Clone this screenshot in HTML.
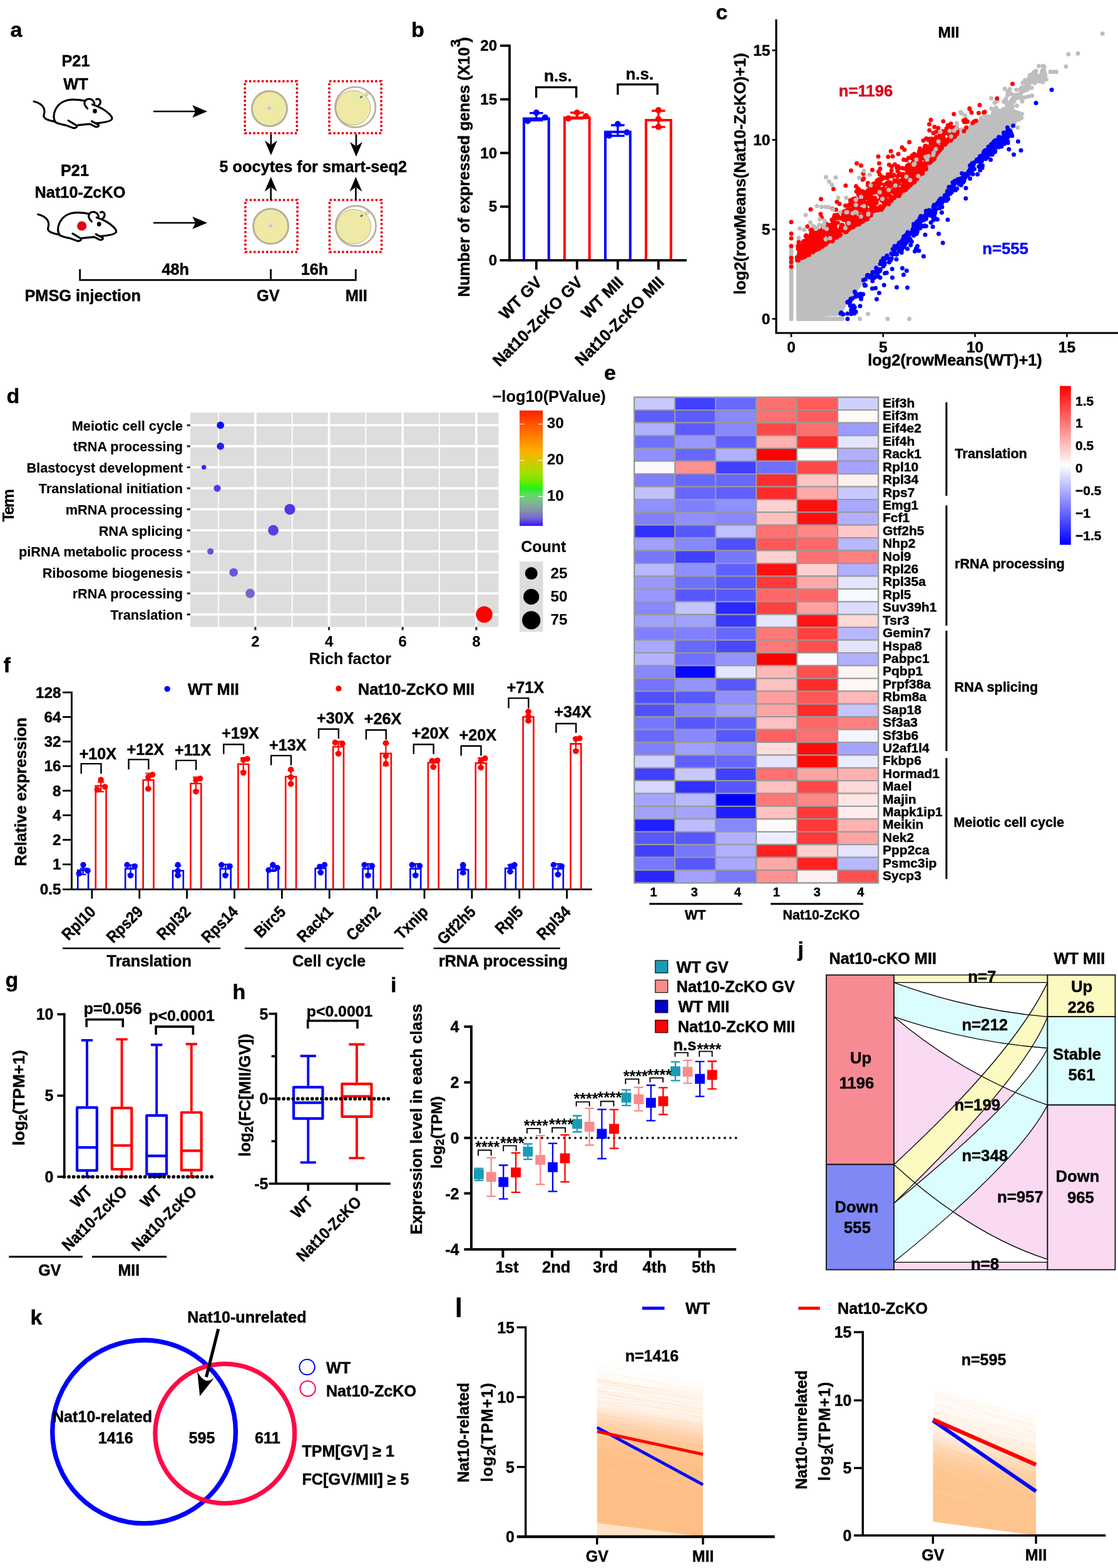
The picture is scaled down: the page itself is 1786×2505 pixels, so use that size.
<!DOCTYPE html>
<html lang="en"><head><meta charset="utf-8"><title>Figure</title>
<style>
html,body{margin:0;padding:0;background:#fff}
svg{display:block}
text{font-family:"Liberation Sans",sans-serif;font-weight:bold;stroke:#000;stroke-width:.45px}
#pd text{stroke-width:.15px}
</style></head><body>
<svg width="1786" height="2505" viewBox="0 0 1786 2505">
<rect width="1786" height="2505" fill="#fff"/>
<g id="pa">
<text x="16.5" y="58.6" font-size="34">a</text>
<text x="121" y="105.7" font-size="25.3" text-anchor="middle">P21</text>
<text x="121" y="143" font-size="25.3" text-anchor="middle">WT</text>
<text x="119.5" y="281" font-size="25.3" text-anchor="middle">P21</text>
<text x="128" y="316.3" font-size="25.3" text-anchor="middle">Nat10-ZcKO</text>
<g transform="translate(30 70) scale(0.19704)" fill="none" stroke="#000" stroke-width="16" stroke-linecap="round" stroke-linejoin="round"><path d="M122 467C165 478 205 500 208 545C210 575 190 585 215 605C235 620 265 625 290 630"/><path d="M300 637C278 612 280 570 297 535C320 485 370 452 440 452C475 452 505 455 535 462"/><path d="M597 492C640 505 700 535 735 570C750 585 760 597 755 610C748 628 700 637 632 643"/><path d="M300 637C330 652 355 655 380 660L440 682C460 688 480 672 468 662L402 622"/><path d="M478 660C510 655 550 652 578 650L620 672C640 678 655 665 645 656L592 628"/><path d="M557 525C535 505 525 480 540 460C555 442 585 442 603 462C610 470 612 478 613 485"/><path d="M628 450C645 443 660 452 662 467C663 480 658 490 648 498"/><ellipse cx="617" cy="545" rx="13" ry="15" fill="#000" stroke-width="8"/></g>
<g transform="translate(6.7 180.5)"><g transform="translate(30 70) scale(0.19704)" fill="none" stroke="#000" stroke-width="16" stroke-linecap="round" stroke-linejoin="round"><path d="M122 467C165 478 205 500 208 545C210 575 190 585 215 605C235 620 265 625 290 630"/><path d="M300 637C278 612 280 570 297 535C320 485 370 452 440 452C475 452 505 455 535 462"/><path d="M597 492C640 505 700 535 735 570C750 585 760 597 755 610C748 628 700 637 632 643"/><path d="M300 637C330 652 355 655 380 660L440 682C460 688 480 672 468 662L402 622"/><path d="M478 660C510 655 550 652 578 650L620 672C640 678 655 665 645 656L592 628"/><path d="M557 525C535 505 525 480 540 460C555 442 585 442 603 462C610 470 612 478 613 485"/><path d="M628 450C645 443 660 452 662 467C663 480 658 490 648 498"/><ellipse cx="617" cy="545" rx="13" ry="15" fill="#000" stroke-width="8"/></g></g>
<circle cx="130.7" cy="361" r="7.6" fill="#e60012"/>
<line x1="245" y1="178" x2="312" y2="178" stroke="#000" stroke-width="2.6"/>
<polygon points="331.2,178 307.3,168 312.3,178 307.3,188" fill="#000"/>
<line x1="245" y1="356" x2="312" y2="356" stroke="#000" stroke-width="2.6"/>
<polygon points="331.2,356 307.3,346 312.3,356 307.3,366" fill="#000"/>
<rect x="391.3" y="129.7" width="83.1" height="83.1" fill="none" stroke="#e60012" stroke-width="3.5" stroke-dasharray="3.5 3.15"/>
<circle cx="430.5" cy="173.6" r="28" fill="#eeeaa5" stroke="#b9ae9a" stroke-width="3"/>
<circle cx="430.5" cy="173" r="4.8" fill="#e7dfc0"/>
<circle cx="430.3" cy="173" r="1.9" fill="#c6b892"/>
<rect x="526" y="129.7" width="83.1" height="83.1" fill="none" stroke="#e60012" stroke-width="3.5" stroke-dasharray="3.5 3.15"/>
<circle cx="567.7" cy="171.2" r="32.2" fill="#fff" stroke="#b9ae9a" stroke-width="2.7"/>
<circle cx="585.7" cy="150.3" r="2.7" fill="#eeeaa5" stroke="#a59c80" stroke-width="0.7"/>
<circle cx="564.3" cy="172.3" r="27.7" fill="#eeeaa5" stroke="#6d6a55" stroke-width="0.5"/>
<path d="M574 155.4l4.5 -3.2l-1 2.3l2.6 -1.2l-3.6 4.4l-0.6 -1.6z" fill="#1b75bc"/>
<rect x="392" y="319.5" width="83.1" height="83.1" fill="none" stroke="#e60012" stroke-width="3.5" stroke-dasharray="3.5 3.15"/>
<circle cx="432.6" cy="361.4" r="28" fill="#eeeaa5" stroke="#b9ae9a" stroke-width="3"/>
<circle cx="432.6" cy="360.8" r="4.8" fill="#e7dfc0"/>
<circle cx="432.4" cy="360.8" r="1.9" fill="#c6b892"/>
<rect x="526.5" y="319.5" width="83.1" height="83.1" fill="none" stroke="#e60012" stroke-width="3.5" stroke-dasharray="3.5 3.15"/>
<circle cx="568.4" cy="361" r="32.2" fill="#fff" stroke="#b9ae9a" stroke-width="2.7"/>
<circle cx="586.4" cy="340.1" r="2.7" fill="#eeeaa5" stroke="#a59c80" stroke-width="0.7"/>
<circle cx="565" cy="362.1" r="27.7" fill="#eeeaa5" stroke="#6d6a55" stroke-width="0.5"/>
<path d="M574.7 345.2l4.5 -3.2l-1 2.3l2.6 -1.2l-3.6 4.4l-0.6 -1.6z" fill="#1b75bc"/>
<line x1="432.9" y1="214.5" x2="432.9" y2="231" stroke="#000" stroke-width="2.6"/>
<polygon points="432.9,248 422.9,224.5 432.9,231.5 442.9,224.5" fill="#000"/>
<line x1="569" y1="214.5" x2="569" y2="233.3" stroke="#000" stroke-width="2.6"/>
<polygon points="569,250.3 559,226.8 569,233.8 579,226.8" fill="#000"/>
<line x1="432.7" y1="320" x2="432.7" y2="299.6" stroke="#000" stroke-width="2.6"/>
<polygon points="432.7,282.6 422.7,306.1 432.7,299.1 442.7,306.1" fill="#000"/>
<line x1="568.4" y1="320" x2="568.4" y2="299.6" stroke="#000" stroke-width="2.6"/>
<polygon points="568.4,282.6 558.4,306.1 568.4,299.1 578.4,306.1" fill="#000"/>
<text x="350.5" y="275" font-size="25.3">5 oocytes for smart-seq2</text>
<path d="M127.7 430V447.3H568.3V430M432.6 430V447.3" fill="none" stroke="#000" stroke-width="2.8"/>
<text x="280.2" y="439" font-size="25.3" text-anchor="middle">48h</text>
<text x="502.5" y="439" font-size="25.3" text-anchor="middle">16h</text>
<text x="39.5" y="480.7" font-size="25.3">PMSG injection</text>
<text x="428.4" y="480.7" font-size="25.3" text-anchor="middle">GV</text>
<text x="569.2" y="480.7" font-size="25.3" text-anchor="middle">MII</text>
</g>
<g id="pb">
<text x="657" y="58.5" font-size="34">b</text>
<path d="M814 71.3V415.8H1097" fill="none" stroke="#000" stroke-width="3.8"/>
<line x1="798.5" y1="415.8" x2="814" y2="415.8" stroke="#000" stroke-width="3.8"/>
<line x1="799" y1="330.1" x2="814" y2="330.1" stroke="#000" stroke-width="3.8"/>
<line x1="799" y1="244.4" x2="814" y2="244.4" stroke="#000" stroke-width="3.8"/>
<line x1="799" y1="158.7" x2="814" y2="158.7" stroke="#000" stroke-width="3.8"/>
<line x1="799" y1="73" x2="814" y2="73" stroke="#000" stroke-width="3.8"/>
<text x="794" y="424.1" font-size="24" text-anchor="end">0</text>
<text x="794" y="338.4" font-size="24" text-anchor="end">5</text>
<text x="794" y="252.7" font-size="24" text-anchor="end">10</text>
<text x="794" y="167" font-size="24" text-anchor="end">15</text>
<text x="794" y="81.3" font-size="24" text-anchor="end">20</text>
<text font-size="25.3" text-anchor="middle" transform="translate(749.5 267) rotate(-90)">Number of expressed genes (X10<tspan dy="-14.5" font-size="22.5">3</tspan><tspan dy="14.5" dx="-5">)</tspan></text>
<path d="M836.9 414.1V189.5H876.7V414.1" fill="none" stroke="#0000ff" stroke-width="4"/>
<path d="M856.8 180.7V192.3M846 180.7H867.6M846 192.3H867.6" fill="none" stroke="#0000ff" stroke-width="3.3"/>
<circle cx="856.8" cy="180" r="5" fill="#0000ff"/>
<circle cx="870.8" cy="187.8" r="5" fill="#0000ff"/>
<circle cx="843" cy="193.3" r="5" fill="#0000ff"/>
<line x1="856.8" y1="415.8" x2="856.8" y2="430.8" stroke="#000" stroke-width="3.8"/>
<path d="M901.9 414.1V187.9H941.7V414.1" fill="none" stroke="#ff0000" stroke-width="4"/>
<path d="M921.8 180V189.3M911 180H932.6M911 189.3H932.6" fill="none" stroke="#ff0000" stroke-width="3.3"/>
<circle cx="921.8" cy="180" r="5" fill="#ff0000"/>
<circle cx="936" cy="185.7" r="5" fill="#ff0000"/>
<circle cx="908" cy="189.2" r="5" fill="#ff0000"/>
<line x1="921.8" y1="415.8" x2="921.8" y2="430.8" stroke="#000" stroke-width="3.8"/>
<path d="M967 414.1V210.8H1006.8V414.1" fill="none" stroke="#0000ff" stroke-width="4"/>
<path d="M986.9 200V217M976.1 200H997.7M976.1 217H997.7" fill="none" stroke="#0000ff" stroke-width="3.3"/>
<circle cx="986.9" cy="198.3" r="5" fill="#0000ff"/>
<circle cx="1001.5" cy="211.5" r="5" fill="#0000ff"/>
<circle cx="973" cy="216.6" r="5" fill="#0000ff"/>
<line x1="986.9" y1="415.8" x2="986.9" y2="430.8" stroke="#000" stroke-width="3.8"/>
<path d="M1032 414.1V191.9H1071.8V414.1" fill="none" stroke="#ff0000" stroke-width="4"/>
<path d="M1051.9 177V202.8M1041.1 177H1062.7M1041.1 202.8H1062.7" fill="none" stroke="#ff0000" stroke-width="3.3"/>
<circle cx="1051.9" cy="176" r="5" fill="#ff0000"/>
<circle cx="1051.9" cy="190.2" r="5" fill="#ff0000"/>
<circle cx="1051.9" cy="202.8" r="5" fill="#ff0000"/>
<line x1="1051.9" y1="415.8" x2="1051.9" y2="430.8" stroke="#000" stroke-width="3.8"/>
<path d="M856.6 156.3V139.4H920.6V156.3" fill="none" stroke="#000" stroke-width="3.4"/>
<path d="M986.9 151.4V134.9H1050.3V151.4" fill="none" stroke="#000" stroke-width="3.4"/>
<text x="891.4" y="130.3" font-size="26" text-anchor="middle">n.s.</text>
<text x="1021.8" y="127.2" font-size="26" text-anchor="middle">n.s.</text>
<text font-size="26.3" text-anchor="end" transform="translate(867.3 452.8) rotate(-45) scale(0.97 1)">WT GV</text>
<text font-size="26.3" text-anchor="end" transform="translate(932.3 452.8) rotate(-45) scale(0.97 1)">Nat10-ZcKO GV</text>
<text font-size="26.3" text-anchor="end" transform="translate(997.4 452.8) rotate(-45) scale(0.97 1)">WT MII</text>
<text font-size="26.3" text-anchor="end" transform="translate(1062.4 452.8) rotate(-45) scale(0.97 1)">Nat10-ZcKO MII</text>
</g>
<g id="pc">
<text x="1143.5" y="30.5" font-size="34">c</text>
<path d="M1240 31V532H1786" fill="none" stroke="#000" stroke-width="3.2"/>
<line x1="1264" y1="532" x2="1264" y2="538.5" stroke="#000" stroke-width="2.6"/>
<line x1="1233.5" y1="509.4" x2="1240" y2="509.4" stroke="#000" stroke-width="2.6"/>
<text x="1264" y="562.5" font-size="24.5" text-anchor="middle">0</text>
<text x="1230.5" y="518.1" font-size="24.5" text-anchor="end">0</text>
<line x1="1410.8" y1="532" x2="1410.8" y2="538.5" stroke="#000" stroke-width="2.6"/>
<line x1="1233.5" y1="366.4" x2="1240" y2="366.4" stroke="#000" stroke-width="2.6"/>
<text x="1410.8" y="562.5" font-size="24.5" text-anchor="middle">5</text>
<text x="1230.5" y="375.1" font-size="24.5" text-anchor="end">5</text>
<line x1="1557.6" y1="532" x2="1557.6" y2="538.5" stroke="#000" stroke-width="2.6"/>
<line x1="1233.5" y1="223.4" x2="1240" y2="223.4" stroke="#000" stroke-width="2.6"/>
<text x="1557.6" y="562.5" font-size="24.5" text-anchor="middle">10</text>
<text x="1230.5" y="232.1" font-size="24.5" text-anchor="end">10</text>
<line x1="1704.4" y1="532" x2="1704.4" y2="538.5" stroke="#000" stroke-width="2.6"/>
<line x1="1233.5" y1="80.4" x2="1240" y2="80.4" stroke="#000" stroke-width="2.6"/>
<text x="1704.4" y="562.5" font-size="24.5" text-anchor="middle">15</text>
<text x="1230.5" y="89.1" font-size="24.5" text-anchor="end">15</text>
<text x="1525.5" y="583.5" font-size="25.4" text-anchor="middle">log2(rowMeans(WT)+1)</text>
<text font-size="25.5" text-anchor="middle" transform="translate(1190.5 277.5) rotate(-90)">log2(rowMeans(Nat10-ZcKO)+1)</text>
<text x="1515.6" y="59.8" font-size="24.5" text-anchor="middle">MII</text>
<text x="1383" y="153.5" font-size="25.7" text-anchor="middle" style="fill:#de0019;stroke:#de0019">n=1196</text>
<text x="1606" y="406" font-size="25.7" text-anchor="middle" style="fill:#0000ff;stroke:#0000ff">n=555</text>
<polygon points="1274.5,505.5 1274.5,417.56 1290.2,408.05 1327.1,386.77 1358.6,367.4 1386.3,348.9 1414,330.4 1436.1,312 1458.3,293.5 1475,275 1486,260.7 1504.5,236.7 1523,220.12 1532.2,211.28 1550.7,202.8 1569.1,192.41 1587.6,183.93 1596.8,176.89 1606,176 1618,176 1628,180 1633.8,181.91 1624.6,191.65 1611.6,205.32 1596.8,219 1578.4,235.6 1559.9,254.1 1541.4,274.4 1523,292 1510,307.5 1497.1,322.86 1478.6,340.21 1460.2,359.28 1441.7,380.25 1423.2,399.31 1404.7,420.1 1386.3,439.7 1377,450 1367.8,463.7 1349.3,487.8 1340.1,502" fill="#bebebe" stroke="#bebebe" stroke-width="5" stroke-linejoin="round"/>
<path d="M1264 509.4h0M1264 506.65h0M1264 503.9h0M1264 501.15h0M1264 498.4h0M1264 495.65h0M1264 492.9h0M1264 490.15h0M1264 487.4h0M1264 484.65h0M1264 481.9h0M1264 479.15h0M1264 476.4h0M1264 473.65h0M1264 470.9h0M1264 468.15h0M1264 465.4h0M1264 462.65h0M1264 459.9h0M1264 457.15h0M1264 454.4h0M1264 451.65h0M1264 448.9h0M1264 446.15h0M1264 443.4h0M1264 440.65h0M1264 437.9h0M1264 435.15h0M1264 432.4h0M1264 429.65h0M1264 426.9h0M1264 424.15h0M1264 421.4h0M1264 418.65h0M1264 415.9h0M1264 413.15h0M1264 410.4h0M1264 407.65h0M1264 404.9h0M1264 402.15h0M1264 399.4h0M1264 396.65h0M1264 393.9h0M1275.5 509.4h0M1278.3 509.4h0M1281.1 509.4h0M1283.9 509.4h0M1286.7 509.4h0M1289.5 509.4h0M1292.3 509.4h0M1295.1 509.4h0M1297.9 509.4h0M1300.7 509.4h0M1303.5 509.4h0M1306.3 509.4h0M1309.1 509.4h0M1311.9 509.4h0M1314.7 509.4h0M1317.5 509.4h0M1320.3 509.4h0M1323.1 509.4h0M1325.9 509.4h0M1328.7 509.4h0M1331.5 509.4h0M1334.3 509.4h0M1337.1 509.4h0M1339.9 509.4h0M1342.7 509.4h0M1345.5 509.4h0M1275.3 501h0M1275.3 498.4h0M1275.3 495.8h0M1275.3 493.2h0M1275.3 490.6h0M1275.3 488h0M1275.3 485.4h0M1275.3 482.8h0M1275.3 480.2h0M1275.3 477.6h0M1275.3 475h0M1275.3 472.4h0M1275.3 469.8h0M1275.3 467.2h0M1275.3 464.6h0M1275.3 462h0M1275.3 459.4h0M1275.3 456.8h0M1275.3 454.2h0M1275.3 451.6h0M1275.3 449h0M1275.3 446.4h0M1275.3 443.8h0M1275.3 441.2h0M1275.3 438.6h0M1275.3 436h0M1275.3 433.4h0M1275.3 430.8h0M1275.3 428.2h0M1275.3 425.6h0M1275.3 423h0M1275.3 420.4h0M1275.3 417.8h0M1275.3 415.2h0M1373.5 509.4h0M1418 509.4h0M1452.5 509.4h0M1386.5 501.5h0M1334.5 502h0M1344 506h0M1377.47 351.91h0M1297.99 402.55h0M1293.22 406.21h0M1412.54 329.91h0M1412.63 331.82h0M1346.96 372.03h0M1460.09 288.13h0M1290.95 407.6h0M1319.46 389.36h0M1536.26 207.08h0M1479.91 266.31h0M1292.98 404.82h0M1493.5 249.65h0M1463.04 287.14h0M1531.32 212.15h0M1459.74 289.39h0M1508.75 229.19h0M1312.23 392.89h0M1323.44 388.74h0M1490.92 253.97h0M1555.92 197.34h0M1466.38 283.53h0M1547 203.88h0M1486.8 255.28h0M1485.04 262.04h0M1365.77 360.3h0M1281.62 412.65h0M1310.48 393.04h0M1315.18 391.89h0M1553.68 198.82h0M1453.12 296.64h0M1552.08 200.27h0M1391.67 343.47h0M1321.85 388.35h0M1349.64 371.1h0M1357.2 365.75h0M1393.78 341.23h0M1497.11 244.52h0M1490.66 249.65h0M1527.38 214.95h0M1400.56 338.8h0M1477.18 269.69h0M1340.43 376.72h0M1289.45 406.88h0M1306.66 398.17h0M1556.75 199.19h0M1355.19 368.03h0M1315.49 391.29h0M1424.62 321.24h0M1306.81 397.32h0M1540.29 206.88h0M1581.12 186.52h0M1447.67 299.2h0M1591.32 180.11h0M1358.12 366.86h0M1523.43 217.5h0M1379.64 350.17h0M1593.35 178.19h0M1539.21 207.82h0M1440.76 307.55h0M1282.62 411.33h0M1499.53 244.18h0M1578.45 186.16h0M1390.9 344.4h0M1336.72 378.26h0M1566.03 193.47h0M1486.15 261.8h0M1489.05 256.53h0M1516.18 225.61h0M1528.17 212.1h0M1626.66 190.33h0M1620.35 197.09h0M1377.86 451.16h0M1577.41 238.34h0M1629.99 187.44h0M1501.63 315.98h0M1627.2 191.07h0M1615.61 203.96h0M1583.37 230.69h0M1426.87 396.62h0M1417.53 405.62h0M1608.43 209.06h0M1514.14 305.48h0M1611.14 207.26h0M1493.91 325.66h0M1393.89 432.82h0M1392.14 435.89h0M1504.51 315.27h0M1505.59 313.98h0M1505.4 312.97h0M1568.44 247.33h0M1566.05 250.46h0M1521.52 295.63h0M1544.91 272.17h0M1483.32 339.22h0M1600.37 217.36h0M1507.26 315.49h0M1380.74 446.03h0M1362.13 470.32h0M1539.08 280.46h0M1387.61 441.27h0M1384.74 446.23h0M1407.45 419.81h0M1486.18 337.21h0M1388.82 438.46h0M1440.29 381.58h0M1552.25 262.77h0M1469.52 349h0M1524.88 289.92h0M1631.78 188.44h0M1371.67 457.28h0M1569.7 243.63h0M1466.85 356.5h0M1416.5 409.02h0M1509.78 308.61h0M1359.06 477.48h0M1364.18 472.62h0M1575.79 239.89h0M1362.26 474.11h0M1441.37 384.01h0M1419.16 404.4h0M1410.46 412.65h0M1355.5 479.76h0M1431.96 391.79h0M1487.51 331.74h0M1346.19 491.83h0M1557.06 257.79h0M1482.34 337.75h0M1581.91 233.58h0M1586.41 229.47h0M1545.04 273.01h0M1586.66 230.6h0M1460 358.9h0M1378.44 449.6h0M1415.66 406.68h0M1589.79 228.36h0M1423.63 398.82h0M1475.51 343.68h0M1420.3 407.7h0M1501.51 320.34h0M1597.1 181.59h0M1600.41 177.71h0M1589.73 188.22h0M1595.66 190.36h0M1584.44 196.7h0M1589.78 179.22h0M1637.48 129.34h0M1653.17 129.13h0M1669.89 119.91h0M1631.05 156.23h0M1653.86 115.45h0M1647.98 140.16h0M1615.36 149.87h0M1644.46 123.41h0M1631.16 141.63h0M1583.75 203.93h0M1586.3 180.13h0M1623.65 143.52h0M1615.69 166.94h0M1636.48 140.15h0M1632.1 155.75h0M1594.55 189.09h0M1637.72 155.46h0M1664.85 113.34h0M1609.79 151.86h0M1624.15 151.47h0M1586.9 210.35h0M1596.49 180.84h0M1582.96 212.38h0M1631.93 140.15h0M1612.48 166.49h0M1586.64 187.64h0M1667.47 112.35h0M1611.6 145.18h0M1608.36 177.03h0M1663.56 125.22h0M1581.81 187.06h0M1587.27 179.22h0M1655.08 119.32h0M1656.4 122.99h0M1579.83 196.67h0M1597.77 189.54h0M1597.7 180.17h0M1639.78 136.59h0M1659.47 105.38h0M1594.34 190.53h0M1668.24 107.13h0M1606.55 175.12h0M1585.69 184.87h0M1661.64 123.34h0M1614.86 173.4h0M1667.01 107.83h0M1630.17 141.84h0M1617.7 158.01h0M1633.97 146.29h0M1627.39 154.25h0M1662.09 124.66h0M1598.76 195.57h0M1666.7 122.1h0M1594.65 177.92h0M1588.74 196.84h0M1656.47 121.93h0M1660.11 121.64h0M1586.9 196.28h0M1600.84 183.13h0M1589.77 174.78h0M1637.35 144.54h0M1614.1 169.54h0M1582.46 225.4h0M1583.11 191.81h0M1652.87 132.66h0M1591.14 192.55h0M1666.35 105.28h0M1585.36 199.51h0M1653.97 124.64h0M1578.45 213.29h0M1651.31 115.66h0M1593.8 189.47h0M1613.25 142.42h0M1633.91 131.96h0M1608.68 168.49h0M1643.38 154.03h0M1627.29 155.79h0M1591.09 171.98h0M1587.51 198.91h0M1620.08 162.02h0M1624.7 156.44h0M1612.3 165.39h0M1653.67 125.34h0M1595.83 181.13h0M1599.33 183.1h0M1629.39 151.59h0M1631.25 146.28h0M1581.46 206.09h0M1632.77 162.08h0M1636.56 141.18h0M1664.65 124.61h0M1592.36 205.32h0M1598.33 178.38h0M1589.48 200.82h0M1630.82 147.78h0M1604.97 202.45h0M1587.37 192.72h0M1607.03 161.76h0M1641.83 141.76h0M1600.47 203.16h0M1641.63 142.95h0M1601.24 182.74h0M1589.75 190.18h0M1601.32 176.56h0M1665.82 120.29h0M1648.46 124.75h0M1581.06 196.97h0M1660.26 126.15h0M1658.78 124.28h0M1646.43 130.91h0M1586.73 205.74h0M1593.39 160.8h0M1598.67 205.95h0M1624.4 168.72h0M1597.64 181.63h0M1642.26 133.78h0M1664.06 117.94h0M1615.61 161.15h0M1603.13 186.53h0M1613.65 163.43h0M1645 119.91h0M1640.39 133.17h0M1595.64 195.01h0M1585.04 212.85h0M1593.3 186.59h0M1615.58 184.42h0M1656.64 124.16h0M1586.08 201.83h0M1633.24 146.58h0M1603.5 162.19h0M1640.62 130.53h0M1586.61 184.13h0M1617.27 170.36h0M1589.85 196.96h0M1589.25 180.66h0M1593.44 200.63h0M1614.22 182.68h0M1629.4 150.35h0M1612.4 150.42h0M1660.56 122.22h0M1587.61 221.79h0M1622.94 153.87h0M1651.46 128.43h0M1643.25 135.76h0M1621.48 151.99h0M1602.55 182.33h0M1590.97 175.4h0M1591.85 188.84h0M1631.85 154.82h0M1590.78 174.26h0M1585.01 201.73h0M1617.35 157.7h0M1587.14 179.08h0M1593.52 208.71h0M1595.64 176.81h0M1610.09 146.49h0M1602.36 193.43h0M1594.39 189.01h0M1607.15 162.73h0M1653.84 125.68h0M1579.45 190.39h0M1660.73 126.4h0M1600.75 176.41h0M1590.75 179.68h0M1581.55 194.18h0M1666 117.34h0M1664.86 116.09h0M1584.86 189.65h0M1654.95 113.3h0M1587.96 182.46h0M1606.78 157.71h0M1589.29 200.69h0M1614.03 167.29h0M1592.14 161.71h0M1579.62 187.6h0M1583.18 190.27h0M1620.18 152.08h0M1594.59 188.42h0M1605.27 162.66h0M1610.29 173.13h0M1612.45 183.36h0M1641.4 138.04h0M1611.47 171.29h0M1608.68 177.76h0M1616.82 168.2h0M1583.72 173.52h0M1616.42 168.42h0M1603.47 174.28h0M1655.07 127.48h0M1648.71 152.86h0M1616.64 160.39h0M1589.01 164.22h0M1581.49 210.67h0M1588.84 184.92h0M1761.3 53.8h0M1706.8 86.5h0M1721.9 85.4h0M1702.9 106.3h0M1668 113.3h0M1669 118h0M1678 114.8h0M1682.7 114.8h0M1687.4 114.8h0M1649.1 118.8h0M1637.5 128h0M1642.7 126.8h0M1655 130.3h0M1664.8 126.2h0M1671.3 126.8h0M1661.5 130h0M1666 131h0M1605.2 142h0M1633.8 139.2h0M1583.5 157h0M1528.5 200.7h0M1625.6 203.8h0M1572.5 184.5h0M1567 188.5h0M1513.5 213h0M1506.5 222h0M1518 222h0" fill="none" stroke="#bebebe" stroke-width="7" stroke-linecap="round"/>
<path d="M1482.06 257.47h0M1325.79 373.79h0M1286.38 409.09h0M1447.08 268.91h0M1302.59 385.31h0M1496.25 237.9h0M1300.16 367.6h0M1475.49 246.46h0M1363.13 350.82h0M1459.96 266.08h0M1436.18 268.29h0M1350.99 369.44h0M1431.75 302.41h0M1304.82 381.85h0M1274.3 415.19h0M1329.1 368.4h0M1433.97 312.64h0M1336.57 379.14h0M1492.12 242.9h0M1276.49 405.34h0M1438.2 279.43h0M1337.16 347.96h0M1378.24 353.65h0M1275.46 395.67h0M1325.51 375.12h0M1477.78 263.28h0M1287.98 375.91h0M1275.89 386.58h0M1458.6 285.5h0M1334.4 375.12h0M1447.84 255.76h0M1413.86 302.45h0M1339.5 346.9h0M1494.15 243.23h0M1460.47 246.11h0M1498.21 243.61h0M1435.93 293.69h0M1394.67 293.73h0M1383.26 332.45h0M1330.25 384.38h0M1313.42 393.8h0M1358.45 364.39h0M1450.04 280.92h0M1292.94 400.6h0M1482.74 239.52h0M1502.61 213.3h0M1304.52 379.21h0M1432.65 267.85h0M1297.84 384.31h0M1353.27 368.6h0M1344.47 366.11h0M1517.55 209.18h0M1283.93 404.79h0M1359.98 349.81h0M1489.28 234.14h0M1277.69 402.46h0M1277.38 408.14h0M1322.88 382.26h0M1338.3 342.96h0M1451.16 297.52h0M1296.55 389.51h0M1431.73 304.06h0M1495.49 224.05h0M1326.32 359.87h0M1369.62 321.71h0M1409 307.52h0M1364.17 361.34h0M1440.58 303.94h0M1468.71 278.96h0M1495.82 242.91h0M1449.21 265.12h0M1334.71 366.83h0M1358.35 335.37h0M1299.4 375.21h0M1521.44 208.21h0M1322.06 386.19h0M1373.87 347.38h0M1448.61 283.18h0M1311.6 387.47h0M1504.26 227.5h0M1382.66 329.11h0M1470.17 257.32h0M1436.55 304.18h0M1300.38 383.9h0M1432.51 302.96h0M1433.34 294.99h0M1319.85 368.52h0M1397.9 303h0M1315.05 366.67h0M1301.22 390.43h0M1403.39 307.54h0M1378.77 316.05h0M1376.08 354.64h0M1363.26 356.99h0M1279.04 408.11h0M1364.47 358.96h0M1512.6 227.43h0M1374.7 354.57h0M1478.39 260.27h0M1332.14 348.21h0M1479.09 235.04h0M1411.46 301.08h0M1486.87 249.94h0M1382.95 351.01h0M1345.07 368.28h0M1381.4 330.42h0M1509.94 211.16h0M1504.2 237.1h0M1436.38 312.94h0M1437.26 306.72h0M1331.15 374.59h0M1504.13 237.22h0M1429.8 297.73h0M1473.77 246.43h0M1410.23 321.02h0M1411.88 324.1h0M1396.32 326.56h0M1400.21 324.02h0M1276.54 391.2h0M1441.27 268.38h0M1516.81 214.85h0M1284.26 399.39h0M1357.48 326.43h0M1500.89 226.86h0M1359.47 327.58h0M1406.23 329.72h0M1379.44 324.33h0M1481.22 253.72h0M1403.56 287.9h0M1358.2 360.45h0M1435.43 312.23h0M1495.94 244.85h0M1276.71 397.42h0M1440.59 278.47h0M1430.11 295.02h0M1445.44 284.23h0M1463.45 280.8h0M1468.43 242.02h0M1479.85 253.61h0M1350.02 364.48h0M1436.24 276.65h0M1284.85 393.97h0M1504.76 234.79h0M1423.17 241.38h0M1376.45 333.93h0M1313.76 394.08h0M1307.3 371.38h0M1305.38 380.29h0M1460.56 291.29h0M1451.39 252.27h0M1435.13 301.86h0M1335.44 335.01h0M1275.68 398.5h0M1354.87 367.13h0M1397.21 331.39h0M1386.58 346.28h0M1365.33 343.39h0M1373.18 325.87h0M1419.84 326.07h0M1451.93 262.78h0M1519.08 197.78h0M1383.35 309.91h0M1424.48 265.76h0M1275.44 410.03h0M1481.63 240.71h0M1477.21 235.05h0M1490.96 222.37h0M1363.48 349.22h0M1323.29 359.61h0M1425.31 305.94h0M1338.3 355.8h0M1294.94 367.48h0M1420.34 263.23h0M1392.46 338.69h0M1320.31 382.43h0M1372.95 352.32h0M1525.97 216.19h0M1471.5 262.73h0M1408.03 334.97h0M1490.8 240.32h0M1471.99 252.55h0M1477.58 237.84h0M1322.33 385.9h0M1417.31 284.48h0M1502.63 226.32h0M1305.03 370.05h0M1434.91 265.67h0M1390.16 313.02h0M1329.35 378.97h0M1498.73 204.57h0M1475.1 261.38h0M1291.16 392.4h0M1446.21 287.82h0M1298.75 396.75h0M1393.36 336.46h0M1443.03 282.91h0M1286.16 387.5h0M1492.08 226h0M1299.65 362.55h0M1388.08 318.94h0M1429.76 309.55h0M1456.15 293.85h0M1340.1 374.36h0M1485.51 257.96h0M1357.33 334.79h0M1287.06 377.03h0M1392.74 336.53h0M1368.63 260.99h0M1296.37 380.34h0M1454.23 263.69h0M1474.39 268.98h0M1483.33 259.98h0M1501.6 226.36h0M1317.96 371.44h0M1294.4 392.28h0M1344.6 359.33h0M1475.92 266.28h0M1456.03 272.47h0M1480.48 248.18h0M1398.3 307.25h0M1495.71 247.21h0M1367.36 352h0M1275.76 409.05h0M1307.05 378.61h0M1356.7 359.52h0M1289.86 361.75h0M1400.67 320.21h0M1515.32 221.95h0M1335.04 347.75h0M1450.81 299.1h0M1417.04 302.21h0M1490.83 250.13h0M1396.32 333.08h0M1378.64 337.25h0M1309.5 376.12h0M1481.68 234.26h0M1488.25 252.88h0M1468.82 275.56h0M1386.48 295.65h0M1479.5 240.87h0M1514.83 204.74h0M1430.97 298.52h0M1381.2 349.67h0M1519.08 206.03h0M1475.15 224.53h0M1434.43 291.13h0M1409.32 282.19h0M1404.03 300.1h0M1351.84 369.03h0M1514.65 223.1h0M1406.49 330.68h0M1346.77 366.69h0M1297.24 383.96h0M1419.1 321.98h0M1390.18 326.49h0M1352.63 365.83h0M1369.94 358.15h0M1491.12 241.88h0M1347.73 338.43h0M1314 369.66h0M1291.5 399.46h0M1303.4 375.99h0M1314.4 386.84h0M1429.54 262.78h0M1460.07 269.54h0M1469.59 252.34h0M1493.94 233.3h0M1399.17 292.08h0M1470.79 241.12h0M1386.96 323.39h0M1371.65 347.46h0M1472.03 242.49h0M1321.26 387.21h0M1419.65 291.36h0M1484.75 208.16h0M1378.99 315.44h0M1418.16 294.25h0M1409.98 285.5h0M1447.33 294.06h0M1362.92 318.07h0M1299.75 394.44h0M1418.73 250.6h0M1384.21 313.12h0M1406.68 293.54h0M1518.13 198.78h0M1502.32 224.88h0M1496.51 242.53h0M1401.21 332.75h0M1435.87 305.22h0M1436.24 302.02h0M1350.44 370.68h0M1484.39 244.61h0M1400.54 332.78h0M1407.58 285.39h0M1302.68 380.34h0M1301.6 391.1h0M1425.68 281.44h0M1467.34 263.09h0M1319.51 390.26h0M1420.19 311.33h0M1291 379.16h0M1382.29 343.28h0M1510.9 208.71h0M1482.37 254.43h0M1398.42 299.14h0M1457.37 288.8h0M1394.31 335.78h0M1363.34 329.85h0M1414.98 312.12h0M1377.82 352.81h0M1361.5 359.99h0M1333.17 363.58h0M1312.31 392.37h0M1486.43 253.12h0M1478.19 264.85h0M1371.95 322.52h0M1399.2 325.04h0M1452.63 270.4h0M1365.29 343.38h0M1494.07 239.83h0M1343.42 367.55h0M1414.73 316.39h0M1319.99 357.69h0M1301.89 393.81h0M1347.51 365.5h0M1305.63 393h0M1505.17 219h0M1308.8 396.71h0M1442.28 296.62h0M1449.4 273.83h0M1435.06 312.06h0M1456.28 291.28h0M1314.51 386.94h0M1282.44 398.57h0M1484.06 243.92h0M1380.85 340.94h0M1481.49 257.2h0M1487.69 255.11h0M1304.94 396.85h0M1462.29 269.17h0M1459.97 255h0M1513.56 210.36h0M1459.9 250.89h0M1288.22 401.03h0M1505.09 218.12h0M1451.44 263.86h0M1516.7 215.1h0M1287.64 400.56h0M1353.59 349.61h0M1333.97 368.65h0M1512.07 226.92h0M1312.06 389.32h0M1413.33 327.1h0M1426.99 295.35h0M1301.52 392.96h0M1290.88 404.79h0M1386.94 339.49h0M1362.81 360.65h0M1525.22 217.61h0M1520.85 220.06h0M1380.72 334.05h0M1508.28 223.17h0M1436.39 303.9h0M1280.23 395.42h0M1323.75 365.52h0M1318.3 369.3h0M1355.54 342.07h0M1369.13 351.81h0M1335.45 366.66h0M1483.25 243.4h0M1397.58 336.51h0M1418.57 301.98h0M1383.15 311.31h0M1382.01 325.73h0M1485.43 221.87h0M1345.24 361.23h0M1361.6 346.42h0M1501.42 234.94h0M1413.64 323.54h0M1358.33 336.31h0M1492.78 202.68h0M1479.07 253.54h0M1349.06 341.82h0M1439.55 302.07h0M1281.18 399.61h0M1296.41 397.32h0M1378.55 336.39h0M1303.51 377.38h0M1300.29 371.63h0M1408.26 319.04h0M1331.53 381.47h0M1419.88 311.63h0M1386.28 304.13h0M1466.11 256.21h0M1298.19 372.06h0M1513.67 211.77h0M1468.86 275.85h0M1277.11 411.67h0M1453.07 270.68h0M1495.97 228.3h0M1318.32 385.01h0M1444.82 269.31h0M1457.1 248.45h0M1428.11 303.4h0M1301.43 364.76h0M1323.54 364.45h0M1304.86 398.32h0M1322.2 383.67h0M1370.47 329.92h0M1444.92 239.29h0M1362.81 351.89h0M1477.64 270.27h0M1443.28 291.39h0M1487.62 237.32h0M1295.94 402.07h0M1421.79 318.93h0M1391.21 333.91h0M1273.13 411.03h0M1387.87 308.74h0M1443.18 299.4h0M1343.12 364.25h0M1525.55 210.13h0M1494.62 236.63h0M1367.97 336.72h0M1512.05 226.24h0M1459.52 273.81h0M1411.98 329.25h0M1354.95 328.35h0M1333.51 372.95h0M1275.99 391.24h0M1414.87 323.17h0M1350.6 350.37h0M1510.66 212.19h0M1297.54 392.91h0M1366.45 351.87h0M1290.19 385.91h0M1337.85 375.54h0M1449.78 288.96h0M1424.25 272.29h0M1456.47 252.63h0M1475.82 239.31h0M1322.65 363.93h0M1508 229.18h0M1436.66 289.74h0M1289.7 407.46h0M1357.14 349.78h0M1391.38 312.11h0M1524.1 210.03h0M1355.11 364.53h0M1466.91 260.43h0M1410.86 314.97h0M1424.28 295.92h0M1452.2 274.43h0M1467.4 246.63h0M1403.11 295.39h0M1393.28 316.82h0M1520.8 206.62h0M1281.54 411.82h0M1413.28 294.99h0M1314.57 376.04h0M1313.7 372.35h0M1520.52 210.59h0M1478.17 266.98h0M1302.47 399.83h0M1375.91 319.58h0M1378.32 286.97h0M1330.44 378.43h0M1333.52 361.04h0M1349.95 337.05h0M1312.5 347.34h0M1462.42 254.04h0M1397.66 302.24h0M1427.03 303.39h0M1328.93 351.03h0M1494.51 232.45h0M1352.16 370.43h0M1278.29 393.59h0M1296.56 386.99h0M1362.15 319h0M1522.53 218.51h0M1446.22 288.47h0M1385.67 350.11h0M1353.99 335h0M1309.75 393.76h0M1309.36 383.77h0M1362.48 333.12h0M1329.97 333.85h0M1340.54 370.62h0M1285.7 403.35h0M1366.58 341.2h0M1414.14 308.33h0M1493.15 242.1h0M1379.18 311.56h0M1374.6 318.78h0M1427.97 279.79h0M1366.96 355.42h0M1483.74 236.73h0M1449.31 282.53h0M1355.32 336.46h0M1492.03 243.43h0M1332.71 361.12h0M1454.21 283.34h0M1445 286.37h0M1333.08 378.49h0M1393.34 327.93h0M1330.29 356.22h0M1404.65 306.1h0M1318.67 356.57h0M1479.77 221.29h0M1368.09 305.9h0M1312.32 392.5h0M1473.95 262.69h0M1373.63 308.58h0M1392.65 317.03h0M1443.92 289.72h0M1364.82 351.04h0M1323.06 386.34h0M1453.5 288.44h0M1486.35 247.95h0M1325.91 364.79h0M1367.13 348.81h0M1454.52 287.09h0M1478.81 262.16h0M1508.26 213.04h0M1365.53 352.42h0M1464.54 273.17h0M1501.64 239.97h0M1390.27 316.28h0M1393.51 299.94h0M1404.6 286.29h0M1375.8 334.43h0M1466.2 280.27h0M1291.42 380.11h0M1464.96 285.73h0M1454.4 296.08h0M1381.46 317.28h0M1493.81 244.25h0M1274.59 393.29h0M1353.53 343.02h0M1401.78 336.1h0M1490.94 212.41h0M1324.53 373.76h0M1390.4 327.08h0M1476.32 248.04h0M1286.81 399.08h0M1418.3 320.88h0M1348.34 349.05h0M1391.06 303.54h0M1286.3 395.2h0M1489.44 240.57h0M1506.37 218.18h0M1442.17 298.21h0M1483.49 237.75h0M1302.56 383.3h0M1381.19 347.31h0M1448.11 301.3h0M1283.39 385.62h0M1418.75 307.1h0M1501.66 219.32h0M1472.65 241.33h0M1370.3 354.23h0M1297.61 386.33h0M1442.91 278.21h0M1506.77 193.8h0M1347.57 351.26h0M1510.44 224.44h0M1422.62 319.08h0M1341.03 325.8h0M1509.74 222.88h0M1358.35 320.06h0M1359.7 361.57h0M1316.88 384.45h0M1416.8 311.85h0M1424.31 320.51h0M1299.41 400.38h0M1361.19 343.96h0M1319.21 359.05h0M1491.64 247.39h0M1495.71 238.22h0M1304.27 396.78h0M1401.32 333.3h0M1327.88 382.2h0M1403.31 300.99h0M1398.41 323.3h0M1330.72 380.21h0M1281.02 402.96h0M1496.77 232.66h0M1421.53 298.38h0M1333.53 349.6h0M1428.98 289.69h0M1475.33 245.43h0M1508.42 223.9h0M1333.96 361.76h0M1359.38 360.99h0M1359.48 272.38h0M1397.55 315.86h0M1464.16 283.48h0M1488.41 257.24h0M1363.32 331.86h0M1464.55 265.27h0M1503.77 221.6h0M1424.62 294.22h0M1493.61 227.28h0M1514.03 209.41h0M1336.04 345.19h0M1392.06 331.79h0M1448.49 292.98h0M1475.97 249.22h0M1378.64 334.73h0M1361.63 339.31h0M1273.29 415.8h0M1478.47 255.41h0M1360.89 358.06h0M1428.81 314.62h0M1452.61 280.67h0M1306.78 398.25h0M1319.96 361.51h0M1333.23 343.67h0M1373.68 323.74h0M1520.99 205.16h0M1409.7 330.45h0M1387.89 306.93h0M1299.95 380.81h0M1370.19 301.05h0M1296.33 397.1h0M1364.71 343.57h0M1405.76 301.91h0M1367.95 326.92h0M1447.84 291.54h0M1495.73 227.87h0M1358.6 336.85h0M1308.11 382.06h0M1371.79 337.7h0M1465.7 270.9h0M1521.46 207.67h0M1371.3 311.06h0M1346.21 360.07h0M1474.12 273.11h0M1493.1 232.19h0M1352.23 363.51h0M1516.44 203.69h0M1511.38 224.84h0M1301.07 393.1h0M1519.2 222.48h0M1389.36 299.62h0M1353.45 346.91h0M1413.62 303.24h0M1364.42 319.73h0M1430.18 289.4h0M1484.95 258.02h0M1341.54 376.19h0M1465.83 277.24h0M1305.28 385.71h0M1433.23 288.58h0M1510.25 225.17h0M1479.29 268.5h0M1410.6 311.27h0M1307.56 396.05h0M1401.2 288.3h0M1378.05 348.72h0M1473.75 246.83h0M1466.47 260.49h0M1463.56 249.35h0M1308.18 380.38h0M1345.6 359.46h0M1340.7 371.68h0M1443.6 254.89h0M1449.28 274.13h0M1274.01 414.64h0M1291.2 397.15h0M1282.8 387.66h0M1433.15 306.05h0M1331.31 380.74h0M1479.48 270.1h0M1279.01 405.5h0M1432.28 296.99h0M1405.44 331.56h0M1523.79 182.17h0M1520.24 212.96h0M1388.35 323.71h0M1359.09 355.4h0M1322.95 375.64h0M1322.8 384.08h0M1416.83 292.48h0M1514.22 200.13h0M1292.45 406.95h0M1455.14 289.31h0M1314.47 364.2h0M1288.02 404.31h0M1474.38 270.47h0M1316.13 383.65h0M1505.63 228.68h0M1306.8 385.21h0M1329.57 385.59h0M1452.66 227.04h0M1460.67 269.17h0M1308.66 393.34h0M1371.47 332.26h0M1391.28 313.77h0M1294.66 393.27h0M1394.77 336.87h0M1502.76 237.62h0M1306.75 388.59h0M1431.89 301.08h0M1456.03 282.78h0M1444.56 299.93h0M1450.93 298.4h0M1428.02 315.01h0M1333.94 360.39h0M1431.42 312.45h0M1517.19 203.1h0M1335.98 347.42h0M1506.96 213.51h0M1310.69 374.65h0M1520.99 220.63h0M1317.15 391.13h0M1500.27 220.84h0M1414.97 283.73h0M1421.29 319.96h0M1408.67 320.15h0M1463.66 265.36h0M1387.88 325.47h0M1382.64 316.18h0M1365.22 341.33h0M1486.58 250.88h0M1469.04 268.89h0M1465.45 281.13h0M1448.31 287.36h0M1379.41 334.68h0M1460.72 265.16h0M1456.77 277.05h0M1385.45 312.53h0M1384.35 342.82h0M1361.76 362.66h0M1522.66 204.16h0M1483.52 224.07h0M1335.67 379.34h0M1498.93 218.89h0M1469.51 237.28h0M1301.62 372.46h0M1364.76 328.46h0M1410.6 317.03h0M1379.75 306.38h0M1299.47 398.53h0M1280.87 401.3h0M1319.96 372.98h0M1460.59 283.79h0M1280.01 409.75h0M1517.86 215.13h0M1422.18 313.26h0M1289.17 400.46h0M1304 374.93h0M1340.85 372.74h0M1350.38 351.54h0M1456.65 265.26h0M1482.09 242.43h0M1488.11 221.72h0M1274.91 397.15h0M1438.31 288.51h0M1309.91 368.45h0M1435.85 304.59h0M1281 392.63h0M1367.64 359.16h0M1335.43 366.13h0M1336.2 373.97h0M1465.08 279.94h0M1370.91 339.16h0M1495.15 236.59h0M1331.23 371.64h0M1387.84 343.86h0M1394.69 337h0M1304.06 392.34h0M1508.29 230.23h0M1464.37 264.01h0M1490.33 231.42h0M1333.04 355.5h0M1295.15 382.2h0M1457.26 281.98h0M1323.84 378.67h0M1518.98 218.29h0M1438.47 308.65h0M1460.64 285.66h0M1428.4 316.32h0M1511.42 212.41h0M1502.03 236.65h0M1498.37 237.19h0M1386.36 345.02h0M1422.21 281.38h0M1277.53 392.27h0M1406.08 291.37h0M1428.88 288.31h0M1528.56 214.12h0M1356.41 360.58h0M1282.24 411.25h0M1274.26 413.33h0M1414.19 325.39h0M1302.62 371.04h0M1403.12 302.91h0M1333.12 366.85h0M1379.46 307.05h0M1514.51 208.17h0M1284.57 385.25h0M1349.54 342.52h0M1381.95 323.77h0M1437.23 306.94h0M1442.34 283.09h0M1518.82 224.41h0M1416.41 303.81h0M1335.03 368.58h0M1292.79 392.85h0M1443.32 304.8h0M1443.01 285.53h0M1515.04 223.15h0M1518.08 220.17h0M1499.94 225.65h0M1439.59 304.65h0M1326.35 384.55h0M1377.1 353.27h0M1512.64 224.47h0M1381.52 335.86h0M1447.21 295.54h0M1468.07 244.13h0M1453.3 264.33h0M1350.74 346.67h0M1486.29 224.84h0M1276.91 400.8h0M1293.29 403.73h0M1276.76 412.6h0M1525.29 218.44h0M1518.48 218.97h0M1353.54 356.43h0M1285.87 406.23h0M1433.13 309.22h0M1455.84 281.26h0M1505.96 232.15h0M1447 280.15h0M1475.42 245.37h0M1324.34 366.06h0M1333.02 364.61h0M1306.89 382.96h0M1433.41 307.33h0M1409.88 332.71h0M1331.2 367.17h0M1427.9 279.35h0M1439.41 304.14h0M1471.16 241h0M1475.52 268.99h0M1285.79 407.21h0M1405.92 302.29h0M1390.62 342.98h0M1405.73 311.08h0M1468.76 279.37h0M1394.39 320.06h0M1356.13 348.1h0M1370.54 329.32h0M1430.87 303.97h0M1346.99 343.86h0M1305.72 383.42h0M1291.35 389.59h0M1298.83 402.68h0M1285.19 392.9h0M1301.48 398.43h0M1485.52 259.94h0M1380 348.98h0M1520.24 219.84h0M1501.42 215.69h0M1427.65 306.5h0M1461.77 288.39h0M1299.89 371.72h0M1336.54 347.62h0M1490.79 253.06h0M1362.31 354.9h0M1493.05 252.56h0M1425.94 249.71h0M1487 229.71h0M1366.35 350.46h0M1332.42 347.11h0M1500.08 241.24h0M1478.19 233.12h0M1478.17 253.63h0M1484.61 249.08h0M1482.88 245.26h0M1496.9 225.77h0M1446.9 303.31h0M1413.9 321.85h0M1470.19 247.63h0M1334.34 372.64h0M1472.15 273.5h0M1460.22 279.11h0M1477.01 241.61h0M1500.83 222.5h0M1350.45 328.48h0M1422.09 278.25h0M1377.43 305.43h0M1366.77 329.68h0M1306.43 371.22h0M1380.75 338.62h0M1405.29 278.68h0M1328.71 360.97h0M1495.79 218.5h0M1451.76 263.44h0M1357.5 363.81h0M1403.01 335.87h0M1523.98 203.73h0M1505.53 222.06h0M1362.57 325.46h0M1403.53 274.25h0M1400.77 289.86h0M1433.76 273.14h0M1339.73 368.27h0M1391.27 343.91h0M1453.26 291.03h0M1406.82 316.88h0M1326.78 367.39h0M1455.54 291.09h0M1506.72 213.76h0M1297.27 385.57h0M1313.21 380.55h0M1357.17 361.15h0M1313.85 377.9h0M1313.37 391.61h0M1353.77 365.96h0M1387.74 305.57h0M1390.88 325.46h0M1319.84 373.74h0M1375.02 343.85h0M1450.32 298.44h0M1419.81 296.28h0M1363.02 332.89h0M1384.22 333.91h0M1458.48 259.58h0M1489.64 244.06h0M1359.4 323.73h0M1322.16 364.18h0M1281.2 404.56h0M1366.06 323.02h0M1507.14 224.7h0M1370.38 332.65h0M1370.12 351.68h0M1411.92 323.49h0M1312.94 392.71h0M1287.82 383.27h0M1290.3 392.66h0M1505.88 209.69h0M1295.18 374.07h0M1460.11 253.42h0M1496.81 237.46h0M1281.21 409.45h0M1450.53 295.64h0M1322.8 372.66h0M1364.51 322.09h0M1341.15 348.62h0M1449.87 294.68h0M1362.92 362.9h0M1447.37 292.36h0M1419.83 294.23h0M1361.37 335.17h0M1502.53 234.15h0M1372.68 358.19h0M1473.88 277.2h0M1379.97 336.6h0M1379.84 284.89h0M1427.77 307.41h0M1503.63 223.13h0M1525.12 214.77h0M1342.58 374.94h0M1394.86 307.44h0M1509.92 230.64h0M1418.19 278.79h0M1506.76 216.74h0M1343.7 348.82h0M1458 273.43h0M1297.32 385.81h0M1441.51 299.83h0M1512.02 205.53h0M1479.93 260.97h0M1373.09 313.4h0M1460.14 269.81h0M1520.74 207.21h0M1436.49 307.01h0M1284.97 410.7h0M1498.87 234.64h0M1457.77 287.79h0M1318.8 366.76h0M1319.23 382.33h0M1506.78 217.16h0M1504.6 217.29h0M1518.82 212.93h0M1491.88 254.2h0M1475.41 252.94h0M1393.52 271.46h0M1314.28 380.06h0M1316.63 381.41h0M1343.41 362.4h0M1421.87 291.6h0M1516.28 205.24h0M1516.43 215.55h0M1280.41 410.91h0M1433.86 281.73h0M1365.84 317.15h0M1573.15 178.85h0M1545.64 194.25h0M1542.35 191.02h0M1539.27 192.39h0M1529.42 210.82h0M1556.2 194.02h0M1553.7 196.57h0M1571.75 179.5h0M1563.38 180.59h0M1264 354.8h0M1264 373.3h0M1264 380.7h0M1264 393h0M1264 412h0M1264 418.5h0M1264 426h0M1275.5 412h0M1275.5 416h0M1487 191.4h0M1617.5 134h0M1592.8 157.3h0M1565 167.8h0M1548.8 173.3h0M1552 179.8h0M1540.5 194.8h0M1559.3 192.9h0M1543.6 203.8h0M1540 209.4h0M1529.4 211.6h0M1295 334.5h0M1311.5 318h0M1331.5 302h0M1337 322.5h0M1351 296.5h0M1375.5 264.5h0M1379 277.5h0M1404.5 261h0M1406 269.5h0M1386.5 292.5h0M1441 235.5h0M1461.5 254.5h0M1484.5 198.5h0M1495.5 210.5h0M1507 211h0M1517 213.5h0M1529 206h0M1541.5 195h0M1549 174h0M1403 250h0M1435 246h0M1367.5 297.5h0M1372 302.5h0M1388 297h0M1311 342h0M1318 357.5h0" fill="none" stroke="#ff0000" stroke-width="7" stroke-linecap="round"/>
<path d="M1613.3 208.68h0M1378.73 470.07h0M1519.73 303.75h0M1521.91 291.57h0M1415.05 412.06h0M1454.7 391.62h0M1607.98 213.85h0M1583.36 246.89h0M1444.03 383.59h0M1630.98 240.13h0M1541.91 283.76h0M1476.46 360.56h0M1412.99 422.45h0M1413.43 420.2h0M1479.27 337h0M1488.06 340.77h0M1574.13 240.36h0M1479.32 349.74h0M1543.12 277.9h0M1595.47 218.97h0M1382.02 446.2h0M1485.78 342.7h0M1436.12 388.79h0M1594.29 223.44h0M1375.43 473.04h0M1407.61 417.36h0M1465.57 366.87h0M1508.52 319.2h0M1545.42 280.2h0M1428.91 393.17h0M1554.29 278.2h0M1542.84 278.53h0M1484.05 335.86h0M1616.01 214.38h0M1503.22 325.99h0M1577.6 251h0M1497.79 325.97h0M1547.7 277.91h0M1374.72 469.44h0M1460.31 369.58h0M1465.06 360.18h0M1456.4 386.03h0M1393.78 448.91h0M1425.26 429.87h0M1471.03 345.31h0M1506.17 387.97h0M1597.75 229.1h0M1610.79 218.05h0M1423.75 405.21h0M1473.9 351.96h0M1447.35 381.02h0M1542.5 278.34h0M1567.91 256.44h0M1449.5 397.39h0M1453.13 381.08h0M1497.73 324.03h0M1467.61 357.66h0M1555.44 262.99h0M1541.31 283.67h0M1444.66 379.05h0M1606.86 219.91h0M1571.49 243.55h0M1570.79 247.92h0M1447.51 388.05h0M1589.38 242.8h0M1464.17 373.45h0M1465.57 393.18h0M1589.87 240.8h0M1563.29 254.01h0M1490.55 335.51h0M1357.73 480.46h0M1470.97 353.28h0M1529.99 286.46h0M1527.87 291.3h0M1595.39 227h0M1457.8 367.12h0M1525.31 289.04h0M1455.27 372.22h0M1406.03 443.62h0M1436.55 387.84h0M1569.3 248.89h0M1504.89 330.78h0M1436.34 400.88h0M1518.72 307.56h0M1441.84 389.21h0M1386.26 439.45h0M1388.68 442.17h0M1508.17 320.78h0M1609.6 212.28h0M1479.4 361.19h0M1470.06 358.55h0M1454.3 382.75h0M1397.84 434.94h0M1459.64 363.89h0M1603.74 214.38h0M1541.39 278.9h0M1434.2 396.49h0M1469.66 347.96h0M1606.62 217.39h0M1494.96 327.31h0M1550.1 271.36h0M1530.79 289.56h0M1516.17 307.51h0M1406.44 430.17h0M1532.18 288.65h0M1491.01 337.57h0M1475.67 361.6h0M1540.69 279.92h0M1610.07 228.23h0M1584.36 240.47h0M1367.19 498.17h0M1551.03 274.77h0M1589.54 224.68h0M1381.12 454.87h0M1410.29 420.07h0M1619.53 246.88h0M1574.79 253.72h0M1554.33 263.44h0M1520.27 307.24h0M1552.64 273.01h0M1432.01 414.16h0M1580.09 241.86h0M1437.42 400.92h0M1503.21 317.26h0M1566.92 263.85h0M1467.82 360.81h0M1514.46 317.53h0M1503.47 318.73h0M1464.36 354.43h0M1534.78 285.3h0M1426.23 397.98h0M1441.27 389.56h0M1536.28 288.6h0M1586.54 237.9h0M1493.72 338.89h0M1392.78 438.85h0M1440.21 403.4h0M1416.85 408.53h0M1513.32 312.63h0M1365.26 490.72h0M1565.18 253.44h0M1569.76 251.9h0M1520.37 299.71h0M1381.61 456.23h0M1513.27 306.51h0M1584.82 229.41h0M1440.26 387.3h0M1452.31 375.07h0M1553.04 260.85h0M1463.47 368.69h0M1609.55 208.92h0M1490.95 348.29h0M1393.38 460.98h0M1492.44 339.4h0M1422.91 415.84h0M1541.17 280.35h0M1442.35 391.92h0M1499.53 373.48h0M1537.17 289.99h0M1405.59 432.95h0M1428.08 405.91h0M1358.04 482.37h0M1465.14 363.23h0M1570.2 252.02h0M1393.98 434.73h0M1360.17 478.03h0M1477.65 344.31h0M1514.56 317.96h0M1493.58 340.15h0M1537.31 284.16h0M1443.92 377.72h0M1586.92 233.89h0M1447.16 381.58h0M1606.28 225.33h0M1483.29 343.81h0M1456.52 372.68h0M1596.33 223.36h0M1354.86 481.98h0M1353.71 482.84h0M1389.19 442.89h0M1574.46 240.29h0M1582.27 238.63h0M1602.72 222.14h0M1394.84 443.31h0M1554.75 263.99h0M1489.85 336.27h0M1443.05 381.28h0M1500.27 320.19h0M1504.14 318.81h0M1595.49 234.9h0M1616.79 217.01h0M1535.4 295.71h0M1571.03 245.67h0M1418.75 412.86h0M1492.08 329.27h0M1395.74 441.93h0M1375.97 474.06h0M1487.95 342.73h0M1539.72 283.07h0M1448.36 432.61h0M1614.47 210.9h0M1563.59 265.92h0M1590.95 233.48h0M1460.14 375.15h0M1578.93 234.38h0M1518.96 298.56h0M1408.24 421.02h0M1459.5 362.54h0M1477.8 346.04h0M1364.64 495h0M1603.44 212.09h0M1393.19 442.09h0M1443.96 394.41h0M1615.9 216.77h0M1363.4 488.22h0M1513.38 305.22h0M1441.27 384.01h0M1522.74 302.19h0M1597.83 223.01h0M1595.92 219.43h0M1561.58 278.44h0M1600.05 220.17h0M1560.41 255.11h0M1575.29 249.54h0M1401.94 429.76h0M1609.93 225.77h0M1539.58 288.27h0M1379.27 447.48h0M1491.23 351.6h0M1565.52 249.48h0M1503.7 324.97h0M1465.31 369.95h0M1459.69 358.03h0M1487.48 344.56h0M1580.3 237.55h0M1476.75 348.64h0M1514.29 308.65h0M1396.79 443.77h0M1402.45 441.67h0M1566.38 260.62h0M1463.39 397.17h0M1437.69 388.23h0M1562.19 255.45h0M1602.17 225.65h0M1611.32 210.37h0M1565.66 272.06h0M1537.41 290.16h0M1360.39 490.34h0M1571.01 252.76h0M1433.62 392.41h0M1509.67 312.43h0M1607.82 219.02h0M1506.81 317.49h0M1420.46 418.97h0M1358.12 488.19h0M1412.54 417.48h0M1597.31 219.42h0M1406.38 430.93h0M1400.11 430.87h0M1574.09 244.45h0M1570.88 245.32h0M1579.65 245.75h0M1540.17 288.85h0M1585.33 246.75h0M1547.3 273.96h0M1436.83 388.75h0M1592.19 232.14h0M1403.18 434.27h0M1395 444.25h0M1572.36 241.49h0M1585.82 230.85h0M1385.4 439.97h0M1549.67 285.34h0M1361.83 476.85h0M1553.56 268.95h0M1399.76 427.98h0M1557.35 259.09h0M1585.16 233.73h0M1604.36 229.78h0M1583.23 231.07h0M1502.03 318.15h0M1610.45 211.94h0M1588.62 228.03h0M1569.08 268.12h0M1507.41 316.47h0M1611.74 238.46h0M1609.54 219.25h0M1591.45 233.61h0M1580.96 238.87h0M1428.72 399.88h0M1426.54 405.93h0M1607.84 211.74h0M1542.82 316.89h0M1467.42 352.43h0M1528.72 301.18h0M1464.27 359.44h0M1525.01 293.66h0M1457.15 372.05h0M1515.93 298.77h0M1470 362.33h0M1567.91 252.56h0M1371.84 473.08h0M1490.12 362.25h0M1381.82 455.28h0M1366.13 467.59h0M1533.07 285.89h0M1424.34 412.63h0M1556.38 270.06h0M1540.51 280.24h0M1608.14 214.82h0M1389.77 440.98h0M1359.67 495.4h0M1552.24 266.01h0M1451.71 375.2h0M1526.43 303.85h0M1613.6 211.05h0M1517.69 309.45h0M1427.98 404.32h0M1504.48 324.91h0M1495.46 328.06h0M1563.68 256.64h0M1543.58 279.28h0M1554.97 261.88h0M1393.67 445.36h0M1413.19 413.26h0M1406.19 421.79h0M1467.91 400.61h0M1561.58 257.87h0M1607.34 220.87h0M1458.51 369.71h0M1358.91 477.39h0M1590.7 223.89h0M1468.56 350.95h0M1521.11 298.03h0M1565.05 254.97h0M1569.75 248.55h0M1416.37 435.83h0M1602.56 227.77h0M1440 395.33h0M1501.39 320.56h0M1492.63 346.12h0M1365.48 466.04h0M1513.97 313.18h0M1538.63 291.26h0M1568.28 257.67h0M1487.08 355.5h0M1591.29 232.39h0M1401.75 438.67h0M1532.46 294.57h0M1566.89 251.38h0M1478.85 342.84h0M1475.5 351.68h0M1450.03 370.9h0M1398.58 460.27h0M1626.38 225.88h0M1552 267.85h0M1598.47 225.75h0M1451.49 384.64h0M1375.58 477.72h0M1432.55 406.52h0M1523.07 299.95h0M1344.07 499.49h0M1412.27 455.49h0M1369.62 470.39h0M1411.37 425.17h0M1586.13 229.34h0M1495.27 334.39h0M1512.14 320.4h0M1355.04 483.21h0M1488.78 344.77h0M1590.33 234.86h0M1451.3 372.07h0M1524.06 291.51h0M1581.3 243.82h0M1430.52 405.23h0M1538.77 283.43h0M1598.39 225.34h0M1503.56 321.43h0M1485.59 339.31h0M1469.21 354.83h0M1604.62 213.16h0M1479.43 347.08h0M1440.77 398.95h0M1447.97 374.78h0M1589.42 226.18h0M1549.51 270.57h0M1439.02 400.07h0M1403.48 441.79h0M1491.07 330.31h0M1382.62 455.9h0M1599.94 234.05h0M1523.06 297.27h0M1554.73 261.06h0M1520.97 302.14h0M1417.72 412.75h0M1604.26 216.3h0M1483.74 343.28h0M1366.6 474.11h0M1459.63 376.13h0M1438.79 388.28h0M1410.68 422.56h0M1410.91 412.8h0M1464.95 366.09h0M1501.09 332.6h0M1493.15 348.03h0M1509.32 311.88h0M1413.53 436.51h0M1492.36 327.37h0M1463.68 360.6h0M1549.51 264.53h0M1428.98 400.69h0M1437.09 387.5h0M1571.54 253.54h0M1536.73 277.1h0M1445.5 390.68h0M1492.34 344.2h0M1469.92 364.6h0M1583.17 237.86h0M1587.84 225.92h0M1582.59 255.37h0M1680 143.4h0M1655 164.6h0M1618.6 200.7h0M1609.4 203.8h0M1343 500.5h0M1347 502h0M1354 501h0M1360 501.5h0M1365 500.5h0M1354 509.4h0M1432.5 459h0M1449.5 459.5h0M1441.5 428.5h0M1443.5 439h0M1461.5 401.5h0M1425.5 443.5h0M1400.5 478h0M1404.5 468h0M1374 489h0M1478 375h0M1514 351h0M1504.5 339.5h0M1497.5 350.5h0M1543 300.5h0M1569.5 264.5h0M1475.5 409.5h0" fill="none" stroke="#0000ff" stroke-width="7" stroke-linecap="round"/>
<path d="M1350.42 364.35h0M1541.55 184.32h0M1368.48 339.61h0M1527.97 205.09h0M1447.88 282.13h0M1325.95 380.43h0M1320.65 365.67h0M1405.32 307.02h0M1519.23 218.08h0M1499.23 226.12h0M1314.31 359.87h0M1308.56 359.26h0M1460.94 261.87h0M1491.48 244.08h0M1453.95 287.86h0M1319.04 382.14h0M1380.31 329.18h0M1386.91 342.55h0M1367.45 327.42h0M1528.35 196.83h0M1490.69 247.54h0M1342.05 339.06h0M1362.17 340.79h0M1303.38 365.57h0M1494.89 238.35h0M1315.92 362.99h0M1375.35 346.01h0M1502.16 210.75h0M1366.5 338.59h0M1481.05 254.99h0M1463.89 254.96h0M1483.06 249.6h0M1351.81 338.96h0M1355.61 356.47h0M1535.89 181.07h0M1419.73 303.42h0M1387.24 341.29h0M1524.11 208.7h0M1459.58 262.86h0M1466.83 281.25h0M1275.84 379.97h0M1316.51 358.9h0M1317.47 353.28h0M1478.66 250.38h0M1353.38 338.99h0M1459.73 262.96h0M1409.64 317.85h0M1517.12 208.97h0M1430.49 296.29h0M1534.6 179.02h0M1287 343.5h0M1294.5 355.5h0M1299 361h0M1305 364h0M1309.5 350.5h0M1305 329h0M1312.5 330.5h0M1319 330.5h0M1324 331h0M1330.5 334.5h0M1319.5 283h0M1324.5 290h0M1329 295.5h0M1335 283.5h0M1339 316h0M1352 316h0M1367 319.5h0M1372.5 284h0M1375.5 314.5h0M1380 273h0M1389.5 279h0M1391 296h0M1277.5 365h0M1284.5 367h0" fill="none" stroke="#bebebe" stroke-width="7" stroke-linecap="round"/>
</g>
<g id="pd">
<text x="10.5" y="644.3" font-size="34" style="stroke-width:.45px">d</text>
<rect x="303.9" y="659.1" width="492.5" height="342.4" fill="#dddddd"/>
<path d="M349.07 659.1V1001.5M466.73 659.1V1001.5M584.39 659.1V1001.5M702.05 659.1V1001.5" fill="none" stroke="#fff" stroke-width="1.8"/>
<path d="M407.9 659.1V1001.5M525.56 659.1V1001.5M643.22 659.1V1001.5M760.88 659.1V1001.5M303.9 679.3H796.4M303.9 712.89H796.4M303.9 746.48H796.4M303.9 780.07H796.4M303.9 813.66H796.4M303.9 847.25H796.4M303.9 880.84H796.4M303.9 914.43H796.4M303.9 948.02H796.4M303.9 981.61H796.4" fill="none" stroke="#fff" stroke-width="3.6"/>
<path d="M407.9 1001.5V1006.8M525.56 1001.5V1006.8M643.22 1001.5V1006.8M760.88 1001.5V1006.8M298.6 679.3H303.9M298.6 712.89H303.9M298.6 746.48H303.9M298.6 780.07H303.9M298.6 813.66H303.9M298.6 847.25H303.9M298.6 880.84H303.9M298.6 914.43H303.9M298.6 948.02H303.9M298.6 981.61H303.9" fill="none" stroke="#333" stroke-width="3.2"/>
<text x="407.9" y="1032.5" font-size="24" text-anchor="middle">2</text>
<text x="525.56" y="1032.5" font-size="24" text-anchor="middle">4</text>
<text x="643.22" y="1032.5" font-size="24" text-anchor="middle">6</text>
<text x="760.88" y="1032.5" font-size="24" text-anchor="middle">8</text>
<text x="292" y="687.7" font-size="21.7" text-anchor="end">Meiotic cell cycle</text>
<text x="292" y="721.29" font-size="21.7" text-anchor="end">tRNA processing</text>
<text x="292" y="754.88" font-size="21.7" text-anchor="end">Blastocyst development</text>
<text x="292" y="788.47" font-size="21.7" text-anchor="end">Translational initiation</text>
<text x="292" y="822.06" font-size="21.7" text-anchor="end">mRNA processing</text>
<text x="292" y="855.65" font-size="21.7" text-anchor="end">RNA splicing</text>
<text x="292" y="889.24" font-size="21.7" text-anchor="end">piRNA metabolic process</text>
<text x="292" y="922.83" font-size="21.7" text-anchor="end">Ribosome biogenesis</text>
<text x="292" y="956.42" font-size="21.7" text-anchor="end">rRNA processing</text>
<text x="292" y="990.01" font-size="21.7" text-anchor="end">Translation</text>
<text font-size="25" text-anchor="middle" letter-spacing="-2.2" transform="translate(21.5 808.6) rotate(-90)">Term</text>
<text x="559.4" y="1060.6" font-size="25.1" text-anchor="middle">Rich factor</text>
<circle cx="352.2" cy="679.3" r="5.9" fill="#0a0aff"/>
<circle cx="352.2" cy="712.89" r="5.9" fill="#2a1ef5"/>
<circle cx="325.7" cy="746.48" r="3.7" fill="#3a20f2"/>
<circle cx="347" cy="780.07" r="5.6" fill="#4c3ae8"/>
<circle cx="463" cy="813.66" r="8.7" fill="#5038e4"/>
<circle cx="436.6" cy="847.25" r="8.4" fill="#5540e2"/>
<circle cx="336.2" cy="880.84" r="5.2" fill="#6252de"/>
<circle cx="373.2" cy="914.43" r="6.8" fill="#6858da"/>
<circle cx="399.6" cy="948.02" r="7.4" fill="#7566cc"/>
<circle cx="773.5" cy="981.61" r="13.2" fill="#ff0000"/>
<defs><linearGradient id="gd" x1="0" y1="0" x2="0" y2="1"><stop offset="0" stop-color="#ff1e00"/><stop offset="0.12" stop-color="#ff5500"/><stop offset="0.25" stop-color="#ff8800"/><stop offset="0.35" stop-color="#fdae00"/><stop offset="0.45" stop-color="#d0cc00"/><stop offset="0.55" stop-color="#9ee000"/><stop offset="0.645" stop-color="#4cf000"/><stop offset="0.675" stop-color="#22ee22"/><stop offset="0.73" stop-color="#62da62"/><stop offset="0.8" stop-color="#7fb690"/><stop offset="0.87" stop-color="#8590ae"/><stop offset="0.93" stop-color="#7868cc"/><stop offset="1" stop-color="#3414ff"/></linearGradient></defs>
<rect x="830" y="655.8" width="37.1" height="184.4" fill="url(#gd)"/>
<path d="M830 677.5h7.4M867.1 677.5h-7.4M830 735.5h7.4M867.1 735.5h-7.4M830 793.4h7.4M867.1 793.4h-7.4" fill="none" stroke="#fff" stroke-width="1.1"/>
<text x="873.8" y="683.8" font-size="24.3">30</text>
<text x="873.8" y="741.8" font-size="24.3">20</text>
<text x="873.8" y="799.7" font-size="24.3">10</text>
<text x="786.5" y="642.2" font-size="25.4">−log10(PValue)</text>
<text x="832.2" y="882.4" font-size="25">Count</text>
<rect x="830" y="897.1" width="37.5" height="112.3" fill="#dddddd"/>
<circle cx="848.7" cy="916.1" r="10" fill="#000"/>
<text x="879.5" y="923.6" font-size="24.3">25</text>
<circle cx="848.7" cy="953.4" r="12.6" fill="#000"/>
<text x="879.5" y="960.9" font-size="24.3">50</text>
<circle cx="848.7" cy="990.9" r="14.6" fill="#000"/>
<text x="879.5" y="998.4" font-size="24.3">75</text>
</g>
<g id="pe">
<text x="965" y="606.5" font-size="34">e</text>
<rect x="1013.2" y="634.6" width="390" height="775.96" fill="#999"/>
<g stroke="#999" stroke-width="2">
<rect x="1013.2" y="634.6" width="65" height="20.42" fill="#c8c8ff"/>
<rect x="1078.2" y="634.6" width="65" height="20.42" fill="#4040ff"/>
<rect x="1143.2" y="634.6" width="65" height="20.42" fill="#6868ff"/>
<rect x="1208.2" y="634.6" width="65" height="20.42" fill="#ff7070"/>
<rect x="1273.2" y="634.6" width="65" height="20.42" fill="#ff5c5c"/>
<rect x="1338.2" y="634.6" width="65" height="20.42" fill="#d0d0ff"/>
<rect x="1013.2" y="655.02" width="65" height="20.42" fill="#5c5cff"/>
<rect x="1078.2" y="655.02" width="65" height="20.42" fill="#5c5cff"/>
<rect x="1143.2" y="655.02" width="65" height="20.42" fill="#8888ff"/>
<rect x="1208.2" y="655.02" width="65" height="20.42" fill="#ff7070"/>
<rect x="1273.2" y="655.02" width="65" height="20.42" fill="#ff5c5c"/>
<rect x="1338.2" y="655.02" width="65" height="20.42" fill="#fffafa"/>
<rect x="1013.2" y="675.44" width="65" height="20.42" fill="#b0b0ff"/>
<rect x="1078.2" y="675.44" width="65" height="20.42" fill="#5c5cff"/>
<rect x="1143.2" y="675.44" width="65" height="20.42" fill="#8888ff"/>
<rect x="1208.2" y="675.44" width="65" height="20.42" fill="#ff4848"/>
<rect x="1273.2" y="675.44" width="65" height="20.42" fill="#ff7070"/>
<rect x="1338.2" y="675.44" width="65" height="20.42" fill="#9c9cff"/>
<rect x="1013.2" y="695.86" width="65" height="20.42" fill="#7070ff"/>
<rect x="1078.2" y="695.86" width="65" height="20.42" fill="#9898ff"/>
<rect x="1143.2" y="695.86" width="65" height="20.42" fill="#6060ff"/>
<rect x="1208.2" y="695.86" width="65" height="20.42" fill="#ffb0b0"/>
<rect x="1273.2" y="695.86" width="65" height="20.42" fill="#ff2c2c"/>
<rect x="1338.2" y="695.86" width="65" height="20.42" fill="#e4e4ff"/>
<rect x="1013.2" y="716.28" width="65" height="20.42" fill="#9090ff"/>
<rect x="1078.2" y="716.28" width="65" height="20.42" fill="#6868ff"/>
<rect x="1143.2" y="716.28" width="65" height="20.42" fill="#b0b0ff"/>
<rect x="1208.2" y="716.28" width="65" height="20.42" fill="#ff0000"/>
<rect x="1273.2" y="716.28" width="65" height="20.42" fill="#fffafa"/>
<rect x="1338.2" y="716.28" width="65" height="20.42" fill="#b0b0ff"/>
<rect x="1013.2" y="736.7" width="65" height="20.42" fill="#fafaff"/>
<rect x="1078.2" y="736.7" width="65" height="20.42" fill="#ff9090"/>
<rect x="1143.2" y="736.7" width="65" height="20.42" fill="#4040ff"/>
<rect x="1208.2" y="736.7" width="65" height="20.42" fill="#7070ff"/>
<rect x="1273.2" y="736.7" width="65" height="20.42" fill="#ff4848"/>
<rect x="1338.2" y="736.7" width="65" height="20.42" fill="#a4a4ff"/>
<rect x="1013.2" y="757.12" width="65" height="20.42" fill="#8080ff"/>
<rect x="1078.2" y="757.12" width="65" height="20.42" fill="#6868ff"/>
<rect x="1143.2" y="757.12" width="65" height="20.42" fill="#6868ff"/>
<rect x="1208.2" y="757.12" width="65" height="20.42" fill="#ff2c2c"/>
<rect x="1273.2" y="757.12" width="65" height="20.42" fill="#ffc4c4"/>
<rect x="1338.2" y="757.12" width="65" height="20.42" fill="#fff0f0"/>
<rect x="1013.2" y="777.54" width="65" height="20.42" fill="#c0c0ff"/>
<rect x="1078.2" y="777.54" width="65" height="20.42" fill="#6868ff"/>
<rect x="1143.2" y="777.54" width="65" height="20.42" fill="#6060ff"/>
<rect x="1208.2" y="777.54" width="65" height="20.42" fill="#ff2c2c"/>
<rect x="1273.2" y="777.54" width="65" height="20.42" fill="#ffa8a8"/>
<rect x="1338.2" y="777.54" width="65" height="20.42" fill="#c8c8ff"/>
<rect x="1013.2" y="797.96" width="65" height="20.42" fill="#9090ff"/>
<rect x="1078.2" y="797.96" width="65" height="20.42" fill="#8080ff"/>
<rect x="1143.2" y="797.96" width="65" height="20.42" fill="#9090ff"/>
<rect x="1208.2" y="797.96" width="65" height="20.42" fill="#ffd0d0"/>
<rect x="1273.2" y="797.96" width="65" height="20.42" fill="#ff1010"/>
<rect x="1338.2" y="797.96" width="65" height="20.42" fill="#a8a8ff"/>
<rect x="1013.2" y="818.38" width="65" height="20.42" fill="#8080ff"/>
<rect x="1078.2" y="818.38" width="65" height="20.42" fill="#9090ff"/>
<rect x="1143.2" y="818.38" width="65" height="20.42" fill="#8888ff"/>
<rect x="1208.2" y="818.38" width="65" height="20.42" fill="#ffc0c0"/>
<rect x="1273.2" y="818.38" width="65" height="20.42" fill="#ff1010"/>
<rect x="1338.2" y="818.38" width="65" height="20.42" fill="#b0b0ff"/>
<rect x="1013.2" y="838.8" width="65" height="20.42" fill="#3030ff"/>
<rect x="1078.2" y="838.8" width="65" height="20.42" fill="#5858ff"/>
<rect x="1143.2" y="838.8" width="65" height="20.42" fill="#c0c0ff"/>
<rect x="1208.2" y="838.8" width="65" height="20.42" fill="#ff7070"/>
<rect x="1273.2" y="838.8" width="65" height="20.42" fill="#ff8888"/>
<rect x="1338.2" y="838.8" width="65" height="20.42" fill="#ffc8c8"/>
<rect x="1013.2" y="859.22" width="65" height="20.42" fill="#a0a0ff"/>
<rect x="1078.2" y="859.22" width="65" height="20.42" fill="#8888ff"/>
<rect x="1143.2" y="859.22" width="65" height="20.42" fill="#5050ff"/>
<rect x="1208.2" y="859.22" width="65" height="20.42" fill="#ff5858"/>
<rect x="1273.2" y="859.22" width="65" height="20.42" fill="#ff6868"/>
<rect x="1338.2" y="859.22" width="65" height="20.42" fill="#b8b8ff"/>
<rect x="1013.2" y="879.64" width="65" height="20.42" fill="#7878ff"/>
<rect x="1078.2" y="879.64" width="65" height="20.42" fill="#4040ff"/>
<rect x="1143.2" y="879.64" width="65" height="20.42" fill="#7878ff"/>
<rect x="1208.2" y="879.64" width="65" height="20.42" fill="#ffd0d0"/>
<rect x="1273.2" y="879.64" width="65" height="20.42" fill="#ff7070"/>
<rect x="1338.2" y="879.64" width="65" height="20.42" fill="#ff8080"/>
<rect x="1013.2" y="900.06" width="65" height="20.42" fill="#b8b8ff"/>
<rect x="1078.2" y="900.06" width="65" height="20.42" fill="#9090ff"/>
<rect x="1143.2" y="900.06" width="65" height="20.42" fill="#6060ff"/>
<rect x="1208.2" y="900.06" width="65" height="20.42" fill="#ff1010"/>
<rect x="1273.2" y="900.06" width="65" height="20.42" fill="#ffd0d0"/>
<rect x="1338.2" y="900.06" width="65" height="20.42" fill="#b0b0ff"/>
<rect x="1013.2" y="920.48" width="65" height="20.42" fill="#9898ff"/>
<rect x="1078.2" y="920.48" width="65" height="20.42" fill="#7070ff"/>
<rect x="1143.2" y="920.48" width="65" height="20.42" fill="#5858ff"/>
<rect x="1208.2" y="920.48" width="65" height="20.42" fill="#ff3838"/>
<rect x="1273.2" y="920.48" width="65" height="20.42" fill="#ffa8a8"/>
<rect x="1338.2" y="920.48" width="65" height="20.42" fill="#e4e4ff"/>
<rect x="1013.2" y="940.9" width="65" height="20.42" fill="#9898ff"/>
<rect x="1078.2" y="940.9" width="65" height="20.42" fill="#5858ff"/>
<rect x="1143.2" y="940.9" width="65" height="20.42" fill="#5858ff"/>
<rect x="1208.2" y="940.9" width="65" height="20.42" fill="#ff6868"/>
<rect x="1273.2" y="940.9" width="65" height="20.42" fill="#ff6868"/>
<rect x="1338.2" y="940.9" width="65" height="20.42" fill="#f8f8ff"/>
<rect x="1013.2" y="961.32" width="65" height="20.42" fill="#8888ff"/>
<rect x="1078.2" y="961.32" width="65" height="20.42" fill="#c4c4ff"/>
<rect x="1143.2" y="961.32" width="65" height="20.42" fill="#2828ff"/>
<rect x="1208.2" y="961.32" width="65" height="20.42" fill="#ff4040"/>
<rect x="1273.2" y="961.32" width="65" height="20.42" fill="#ffa0a0"/>
<rect x="1338.2" y="961.32" width="65" height="20.42" fill="#dcdcff"/>
<rect x="1013.2" y="981.74" width="65" height="20.42" fill="#a0a0ff"/>
<rect x="1078.2" y="981.74" width="65" height="20.42" fill="#a0a0ff"/>
<rect x="1143.2" y="981.74" width="65" height="20.42" fill="#3838ff"/>
<rect x="1208.2" y="981.74" width="65" height="20.42" fill="#e4e4ff"/>
<rect x="1273.2" y="981.74" width="65" height="20.42" fill="#ff1414"/>
<rect x="1338.2" y="981.74" width="65" height="20.42" fill="#ffd8d8"/>
<rect x="1013.2" y="1002.16" width="65" height="20.42" fill="#8080ff"/>
<rect x="1078.2" y="1002.16" width="65" height="20.42" fill="#8080ff"/>
<rect x="1143.2" y="1002.16" width="65" height="20.42" fill="#6868ff"/>
<rect x="1208.2" y="1002.16" width="65" height="20.42" fill="#ff7878"/>
<rect x="1273.2" y="1002.16" width="65" height="20.42" fill="#ff4040"/>
<rect x="1338.2" y="1002.16" width="65" height="20.42" fill="#b8b8ff"/>
<rect x="1013.2" y="1022.58" width="65" height="20.42" fill="#a8a8ff"/>
<rect x="1078.2" y="1022.58" width="65" height="20.42" fill="#6868ff"/>
<rect x="1143.2" y="1022.58" width="65" height="20.42" fill="#4848ff"/>
<rect x="1208.2" y="1022.58" width="65" height="20.42" fill="#ff7878"/>
<rect x="1273.2" y="1022.58" width="65" height="20.42" fill="#ff5050"/>
<rect x="1338.2" y="1022.58" width="65" height="20.42" fill="#e4e4ff"/>
<rect x="1013.2" y="1043" width="65" height="20.42" fill="#b4b4ff"/>
<rect x="1078.2" y="1043" width="65" height="20.42" fill="#7070ff"/>
<rect x="1143.2" y="1043" width="65" height="20.42" fill="#9494ff"/>
<rect x="1208.2" y="1043" width="65" height="20.42" fill="#ff0000"/>
<rect x="1273.2" y="1043" width="65" height="20.42" fill="#fafaff"/>
<rect x="1338.2" y="1043" width="65" height="20.42" fill="#b0b0ff"/>
<rect x="1013.2" y="1063.42" width="65" height="20.42" fill="#8888ff"/>
<rect x="1078.2" y="1063.42" width="65" height="20.42" fill="#0808ff"/>
<rect x="1143.2" y="1063.42" width="65" height="20.42" fill="#e4e4ff"/>
<rect x="1208.2" y="1063.42" width="65" height="20.42" fill="#ffb8b8"/>
<rect x="1273.2" y="1063.42" width="65" height="20.42" fill="#ff5050"/>
<rect x="1338.2" y="1063.42" width="65" height="20.42" fill="#fff4f4"/>
<rect x="1013.2" y="1083.84" width="65" height="20.42" fill="#7474ff"/>
<rect x="1078.2" y="1083.84" width="65" height="20.42" fill="#9494ff"/>
<rect x="1143.2" y="1083.84" width="65" height="20.42" fill="#5858ff"/>
<rect x="1208.2" y="1083.84" width="65" height="20.42" fill="#ffc0c0"/>
<rect x="1273.2" y="1083.84" width="65" height="20.42" fill="#ff2c2c"/>
<rect x="1338.2" y="1083.84" width="65" height="20.42" fill="#fff6f6"/>
<rect x="1013.2" y="1104.26" width="65" height="20.42" fill="#5050ff"/>
<rect x="1078.2" y="1104.26" width="65" height="20.42" fill="#5858ff"/>
<rect x="1143.2" y="1104.26" width="65" height="20.42" fill="#9090ff"/>
<rect x="1208.2" y="1104.26" width="65" height="20.42" fill="#ffa0a0"/>
<rect x="1273.2" y="1104.26" width="65" height="20.42" fill="#ff5858"/>
<rect x="1338.2" y="1104.26" width="65" height="20.42" fill="#ffb8b8"/>
<rect x="1013.2" y="1124.68" width="65" height="20.42" fill="#5050ff"/>
<rect x="1078.2" y="1124.68" width="65" height="20.42" fill="#8888ff"/>
<rect x="1143.2" y="1124.68" width="65" height="20.42" fill="#a0a0ff"/>
<rect x="1208.2" y="1124.68" width="65" height="20.42" fill="#ffa4a4"/>
<rect x="1273.2" y="1124.68" width="65" height="20.42" fill="#ff2c2c"/>
<rect x="1338.2" y="1124.68" width="65" height="20.42" fill="#c4c4ff"/>
<rect x="1013.2" y="1145.1" width="65" height="20.42" fill="#7878ff"/>
<rect x="1078.2" y="1145.1" width="65" height="20.42" fill="#5858ff"/>
<rect x="1143.2" y="1145.1" width="65" height="20.42" fill="#6060ff"/>
<rect x="1208.2" y="1145.1" width="65" height="20.42" fill="#ffc0c0"/>
<rect x="1273.2" y="1145.1" width="65" height="20.42" fill="#ff6868"/>
<rect x="1338.2" y="1145.1" width="65" height="20.42" fill="#ff8080"/>
<rect x="1013.2" y="1165.52" width="65" height="20.42" fill="#6868ff"/>
<rect x="1078.2" y="1165.52" width="65" height="20.42" fill="#8888ff"/>
<rect x="1143.2" y="1165.52" width="65" height="20.42" fill="#5858ff"/>
<rect x="1208.2" y="1165.52" width="65" height="20.42" fill="#ff6060"/>
<rect x="1273.2" y="1165.52" width="65" height="20.42" fill="#ff7070"/>
<rect x="1338.2" y="1165.52" width="65" height="20.42" fill="#f4f4ff"/>
<rect x="1013.2" y="1185.94" width="65" height="20.42" fill="#8080ff"/>
<rect x="1078.2" y="1185.94" width="65" height="20.42" fill="#a0a0ff"/>
<rect x="1143.2" y="1185.94" width="65" height="20.42" fill="#8c8cff"/>
<rect x="1208.2" y="1185.94" width="65" height="20.42" fill="#ffdcdc"/>
<rect x="1273.2" y="1185.94" width="65" height="20.42" fill="#ff0c0c"/>
<rect x="1338.2" y="1185.94" width="65" height="20.42" fill="#a4a4ff"/>
<rect x="1013.2" y="1206.36" width="65" height="20.42" fill="#d0d0ff"/>
<rect x="1078.2" y="1206.36" width="65" height="20.42" fill="#6060ff"/>
<rect x="1143.2" y="1206.36" width="65" height="20.42" fill="#6868ff"/>
<rect x="1208.2" y="1206.36" width="65" height="20.42" fill="#e4e4ff"/>
<rect x="1273.2" y="1206.36" width="65" height="20.42" fill="#ff0808"/>
<rect x="1338.2" y="1206.36" width="65" height="20.42" fill="#ececff"/>
<rect x="1013.2" y="1226.78" width="65" height="20.42" fill="#4040ff"/>
<rect x="1078.2" y="1226.78" width="65" height="20.42" fill="#c8c8ff"/>
<rect x="1143.2" y="1226.78" width="65" height="20.42" fill="#4040ff"/>
<rect x="1208.2" y="1226.78" width="65" height="20.42" fill="#ff7070"/>
<rect x="1273.2" y="1226.78" width="65" height="20.42" fill="#ffa4a4"/>
<rect x="1338.2" y="1226.78" width="65" height="20.42" fill="#ffb0b0"/>
<rect x="1013.2" y="1247.2" width="65" height="20.42" fill="#d8d8ff"/>
<rect x="1078.2" y="1247.2" width="65" height="20.42" fill="#3030ff"/>
<rect x="1143.2" y="1247.2" width="65" height="20.42" fill="#5858ff"/>
<rect x="1208.2" y="1247.2" width="65" height="20.42" fill="#ffc0c0"/>
<rect x="1273.2" y="1247.2" width="65" height="20.42" fill="#ff4848"/>
<rect x="1338.2" y="1247.2" width="65" height="20.42" fill="#ffd8d8"/>
<rect x="1013.2" y="1267.62" width="65" height="20.42" fill="#a4a4ff"/>
<rect x="1078.2" y="1267.62" width="65" height="20.42" fill="#b8b8ff"/>
<rect x="1143.2" y="1267.62" width="65" height="20.42" fill="#0000ff"/>
<rect x="1208.2" y="1267.62" width="65" height="20.42" fill="#ff7878"/>
<rect x="1273.2" y="1267.62" width="65" height="20.42" fill="#ff8888"/>
<rect x="1338.2" y="1267.62" width="65" height="20.42" fill="#ffe4e4"/>
<rect x="1013.2" y="1288.04" width="65" height="20.42" fill="#a0a0ff"/>
<rect x="1078.2" y="1288.04" width="65" height="20.42" fill="#a4a4ff"/>
<rect x="1143.2" y="1288.04" width="65" height="20.42" fill="#2020ff"/>
<rect x="1208.2" y="1288.04" width="65" height="20.42" fill="#ffc0c0"/>
<rect x="1273.2" y="1288.04" width="65" height="20.42" fill="#ff3838"/>
<rect x="1338.2" y="1288.04" width="65" height="20.42" fill="#ffecec"/>
<rect x="1013.2" y="1308.46" width="65" height="20.42" fill="#2020ff"/>
<rect x="1078.2" y="1308.46" width="65" height="20.42" fill="#bcbcff"/>
<rect x="1143.2" y="1308.46" width="65" height="20.42" fill="#8888ff"/>
<rect x="1208.2" y="1308.46" width="65" height="20.42" fill="#fffafa"/>
<rect x="1273.2" y="1308.46" width="65" height="20.42" fill="#ff3838"/>
<rect x="1338.2" y="1308.46" width="65" height="20.42" fill="#ffb4b4"/>
<rect x="1013.2" y="1328.88" width="65" height="20.42" fill="#5858ff"/>
<rect x="1078.2" y="1328.88" width="65" height="20.42" fill="#5858ff"/>
<rect x="1143.2" y="1328.88" width="65" height="20.42" fill="#b0b0ff"/>
<rect x="1208.2" y="1328.88" width="65" height="20.42" fill="#ececff"/>
<rect x="1273.2" y="1328.88" width="65" height="20.42" fill="#ff3838"/>
<rect x="1338.2" y="1328.88" width="65" height="20.42" fill="#ffa4a4"/>
<rect x="1013.2" y="1349.3" width="65" height="20.42" fill="#4040ff"/>
<rect x="1078.2" y="1349.3" width="65" height="20.42" fill="#7878ff"/>
<rect x="1143.2" y="1349.3" width="65" height="20.42" fill="#b0b0ff"/>
<rect x="1208.2" y="1349.3" width="65" height="20.42" fill="#ff2020"/>
<rect x="1273.2" y="1349.3" width="65" height="20.42" fill="#ffd0d0"/>
<rect x="1338.2" y="1349.3" width="65" height="20.42" fill="#e4e4ff"/>
<rect x="1013.2" y="1369.72" width="65" height="20.42" fill="#7878ff"/>
<rect x="1078.2" y="1369.72" width="65" height="20.42" fill="#5858ff"/>
<rect x="1143.2" y="1369.72" width="65" height="20.42" fill="#a8a8ff"/>
<rect x="1208.2" y="1369.72" width="65" height="20.42" fill="#ffa8a8"/>
<rect x="1273.2" y="1369.72" width="65" height="20.42" fill="#ff2020"/>
<rect x="1338.2" y="1369.72" width="65" height="20.42" fill="#b8b8ff"/>
<rect x="1013.2" y="1390.14" width="65" height="20.42" fill="#2828ff"/>
<rect x="1078.2" y="1390.14" width="65" height="20.42" fill="#a0a0ff"/>
<rect x="1143.2" y="1390.14" width="65" height="20.42" fill="#7878ff"/>
<rect x="1208.2" y="1390.14" width="65" height="20.42" fill="#ff9090"/>
<rect x="1273.2" y="1390.14" width="65" height="20.42" fill="#fff0f0"/>
<rect x="1338.2" y="1390.14" width="65" height="20.42" fill="#ff5050"/>
</g>
<rect x="1013.2" y="634.6" width="390" height="775.96" fill="none" stroke="#999" stroke-width="2"/>
<g font-size="21">
<text x="1410" y="650.6">Eif3h</text>
<text x="1410" y="671.02">Eif3m</text>
<text x="1410" y="691.44">Eif4e2</text>
<text x="1410" y="711.86">Eif4h</text>
<text x="1410" y="732.28">Rack1</text>
<text x="1410" y="752.7">Rpl10</text>
<text x="1410" y="773.12">Rpl34</text>
<text x="1410" y="793.54">Rps7</text>
<text x="1410" y="813.96">Emg1</text>
<text x="1410" y="834.38">Fcf1</text>
<text x="1410" y="854.8">Gtf2h5</text>
<text x="1410" y="875.22">Nhp2</text>
<text x="1410" y="895.64">Nol9</text>
<text x="1410" y="916.06">Rpl26</text>
<text x="1410" y="936.48">Rpl35a</text>
<text x="1410" y="956.9">Rpl5</text>
<text x="1410" y="977.32">Suv39h1</text>
<text x="1410" y="997.74">Tsr3</text>
<text x="1410" y="1018.16">Gemin7</text>
<text x="1410" y="1038.58">Hspa8</text>
<text x="1410" y="1059">Pabpc1</text>
<text x="1410" y="1079.42">Pqbp1</text>
<text x="1410" y="1099.84">Prpf38a</text>
<text x="1410" y="1120.26">Rbm8a</text>
<text x="1410" y="1140.68">Sap18</text>
<text x="1410" y="1161.1">Sf3a3</text>
<text x="1410" y="1181.52">Sf3b6</text>
<text x="1410" y="1201.94">U2af1l4</text>
<text x="1410" y="1222.36">Fkbp6</text>
<text x="1410" y="1242.78">Hormad1</text>
<text x="1410" y="1263.2">Mael</text>
<text x="1410" y="1283.62">Majin</text>
<text x="1410" y="1304.04">Mapk1ip1</text>
<text x="1410" y="1324.46">Meikin</text>
<text x="1410" y="1344.88">Nek2</text>
<text x="1410" y="1365.3">Ppp2ca</text>
<text x="1410" y="1385.72">Psmc3ip</text>
<text x="1410" y="1406.14">Sycp3</text>
</g>
<text x="1044" y="1432.4" font-size="20" text-anchor="middle">1</text>
<text x="1109.4" y="1432.4" font-size="20" text-anchor="middle">3</text>
<text x="1178.2" y="1432.4" font-size="20" text-anchor="middle">4</text>
<text x="1240.4" y="1432.4" font-size="20" text-anchor="middle">1</text>
<text x="1305.4" y="1432.4" font-size="20" text-anchor="middle">3</text>
<text x="1374.8" y="1432.4" font-size="20" text-anchor="middle">4</text>
<line x1="1037.3" y1="1444" x2="1185.8" y2="1444" stroke="#000" stroke-width="3.1"/>
<line x1="1231.1" y1="1444" x2="1379.1" y2="1444" stroke="#000" stroke-width="3.1"/>
<text x="1110.6" y="1469" font-size="21.5" text-anchor="middle">WT</text>
<text x="1312" y="1469" font-size="21.5" text-anchor="middle">Nat10-ZcKO</text>
<line x1="1511.9" y1="642.6" x2="1511.9" y2="792.1" stroke="#000" stroke-width="3"/>
<text x="1525.6" y="732.2" font-size="21.6">Translation</text>
<line x1="1511.9" y1="807.4" x2="1511.9" y2="999.6" stroke="#000" stroke-width="3"/>
<text x="1525" y="908.2" font-size="21.6">rRNA processing</text>
<line x1="1511.9" y1="1007.6" x2="1511.9" y2="1199.9" stroke="#000" stroke-width="3"/>
<text x="1524.6" y="1104.5" font-size="21.6">RNA splicing</text>
<line x1="1511.9" y1="1211" x2="1511.9" y2="1404.4" stroke="#000" stroke-width="3"/>
<text x="1523.5" y="1320.6" font-size="21.6">Meiotic cell cycle</text>
<defs><linearGradient id="ge" x1="0" y1="0" x2="0" y2="1"><stop offset="0" stop-color="#ff0000"/><stop offset="0.5" stop-color="#ffffff"/><stop offset="1" stop-color="#0000ff"/></linearGradient></defs>
<rect x="1693" y="616.6" width="17.8" height="253.8" fill="url(#ge)"/>
<text x="1718" y="647.6" font-size="21">1.5</text>
<text x="1718" y="683.47" font-size="21">1</text>
<text x="1718" y="719.34" font-size="21">0.5</text>
<text x="1718" y="755.21" font-size="21">0</text>
<text x="1718" y="791.08" font-size="21">−0.5</text>
<text x="1718" y="826.95" font-size="21">−1</text>
<text x="1718" y="862.82" font-size="21">−1.5</text>
</g>
<g id="pf">
<text x="5.5" y="1073.5" font-size="34">f</text>
<path d="M114.5 1104.8V1420.9M100 1420.9H945.8" fill="none" stroke="#000" stroke-width="2.8"/>
<line x1="100" y1="1106.2" x2="114.5" y2="1106.2" stroke="#000" stroke-width="2.8"/>
<text x="97.5" y="1114.7" font-size="24.3" text-anchor="end">128</text>
<line x1="100" y1="1145.45" x2="114.5" y2="1145.45" stroke="#000" stroke-width="2.8"/>
<text x="97.5" y="1153.95" font-size="24.3" text-anchor="end">64</text>
<line x1="100" y1="1184.7" x2="114.5" y2="1184.7" stroke="#000" stroke-width="2.8"/>
<text x="97.5" y="1193.2" font-size="24.3" text-anchor="end">32</text>
<line x1="100" y1="1223.95" x2="114.5" y2="1223.95" stroke="#000" stroke-width="2.8"/>
<text x="97.5" y="1232.45" font-size="24.3" text-anchor="end">16</text>
<line x1="100" y1="1263.2" x2="114.5" y2="1263.2" stroke="#000" stroke-width="2.8"/>
<text x="97.5" y="1271.7" font-size="24.3" text-anchor="end">8</text>
<line x1="100" y1="1302.45" x2="114.5" y2="1302.45" stroke="#000" stroke-width="2.8"/>
<text x="97.5" y="1310.95" font-size="24.3" text-anchor="end">4</text>
<line x1="100" y1="1341.7" x2="114.5" y2="1341.7" stroke="#000" stroke-width="2.8"/>
<text x="97.5" y="1350.2" font-size="24.3" text-anchor="end">2</text>
<line x1="100" y1="1380.95" x2="114.5" y2="1380.95" stroke="#000" stroke-width="2.8"/>
<text x="97.5" y="1389.45" font-size="24.3" text-anchor="end">1</text>
<text x="97.5" y="1428.7" font-size="24.3" text-anchor="end">0.5</text>
<text font-size="25.3" text-anchor="middle" transform="translate(41.5 1265) rotate(-90)">Relative expression</text>
<line x1="146.9" y1="1420.9" x2="146.9" y2="1435.7" stroke="#000" stroke-width="2.8"/>
<path d="M124.3 1419.9V1390.36H141.1V1419.9" fill="none" stroke="#0000ff" stroke-width="2.6"/>
<path d="M132.7 1387.28V1397.13M127.7 1387.28h10M127.7 1397.13h10" fill="none" stroke="#0000ff" stroke-width="2.2"/>
<circle cx="133.01" cy="1381.74" r="4.7" fill="#0000ff"/>
<circle cx="140.09" cy="1390.97" r="4.7" fill="#0000ff"/>
<circle cx="126.23" cy="1395.59" r="4.7" fill="#0000ff"/>
<path d="M152.8 1419.9V1255.5H169.6V1419.9" fill="none" stroke="#ff0000" stroke-width="2.6"/>
<path d="M161.2 1249.35V1264.74M156.2 1249.35h10M156.2 1264.74h10" fill="none" stroke="#ff0000" stroke-width="2.2"/>
<circle cx="161.2" cy="1245.65" r="4.7" fill="#ff0000"/>
<circle cx="167.67" cy="1257.04" r="4.7" fill="#ff0000"/>
<circle cx="155.35" cy="1261.66" r="4.7" fill="#ff0000"/>
<path d="M129.7 1236.11V1220.1H161.5V1236.11" fill="none" stroke="#000" stroke-width="2.4"/>
<text x="156.4" y="1212.79" font-size="25.2" text-anchor="middle">+10X</text>
<text font-size="26" text-anchor="end" transform="translate(154.4 1458.2) rotate(-45) scale(0.9 1)">Rpl10</text>
<line x1="222.77" y1="1420.9" x2="222.77" y2="1435.7" stroke="#000" stroke-width="2.8"/>
<path d="M200.17 1419.9V1387.89H216.97V1419.9" fill="none" stroke="#0000ff" stroke-width="2.6"/>
<path d="M208.57 1381.74V1397.13M203.57 1381.74h10M203.57 1397.13h10" fill="none" stroke="#0000ff" stroke-width="2.2"/>
<circle cx="203.03" cy="1381.74" r="4.7" fill="#0000ff"/>
<circle cx="215.34" cy="1383.89" r="4.7" fill="#0000ff"/>
<circle cx="208.57" cy="1398.67" r="4.7" fill="#0000ff"/>
<path d="M228.67 1419.9V1246.27H245.47V1419.9" fill="none" stroke="#ff0000" stroke-width="2.6"/>
<path d="M237.07 1235.49V1260.12M232.07 1235.49h10M232.07 1260.12h10" fill="none" stroke="#ff0000" stroke-width="2.2"/>
<circle cx="236.76" cy="1241.65" r="4.7" fill="#ff0000"/>
<circle cx="243.54" cy="1237.65" r="4.7" fill="#ff0000"/>
<circle cx="236.76" cy="1260.12" r="4.7" fill="#ff0000"/>
<path d="M205.57 1229.33V1213.33H237.37V1229.33" fill="none" stroke="#000" stroke-width="2.4"/>
<text x="232.27" y="1205.7" font-size="25.2" text-anchor="middle">+12X</text>
<text font-size="26" text-anchor="end" transform="translate(230.27 1458.2) rotate(-45) scale(0.9 1)">Rps29</text>
<line x1="298.64" y1="1420.9" x2="298.64" y2="1435.7" stroke="#000" stroke-width="2.8"/>
<path d="M276.04 1419.9V1390.97H292.84V1419.9" fill="none" stroke="#0000ff" stroke-width="2.6"/>
<path d="M284.44 1383.28V1398.67M279.44 1383.28h10M279.44 1398.67h10" fill="none" stroke="#0000ff" stroke-width="2.2"/>
<circle cx="284.13" cy="1381.74" r="4.7" fill="#0000ff"/>
<circle cx="284.13" cy="1391.28" r="4.7" fill="#0000ff"/>
<circle cx="284.13" cy="1398.67" r="4.7" fill="#0000ff"/>
<path d="M304.54 1419.9V1251.81H321.34V1419.9" fill="none" stroke="#ff0000" stroke-width="2.6"/>
<path d="M312.94 1241.65V1263.2M307.94 1241.65h10M307.94 1263.2h10" fill="none" stroke="#ff0000" stroke-width="2.2"/>
<circle cx="312.94" cy="1246.27" r="4.7" fill="#ff0000"/>
<circle cx="319.71" cy="1243.81" r="4.7" fill="#ff0000"/>
<circle cx="312.94" cy="1264.74" r="4.7" fill="#ff0000"/>
<path d="M281.44 1230.26V1214.86H313.24V1230.26" fill="none" stroke="#000" stroke-width="2.4"/>
<text x="308.14" y="1207.24" font-size="25.2" text-anchor="middle">+11X</text>
<text font-size="26" text-anchor="end" transform="translate(306.14 1458.2) rotate(-45) scale(0.9 1)">Rpl32</text>
<line x1="374.51" y1="1420.9" x2="374.51" y2="1435.7" stroke="#000" stroke-width="2.8"/>
<path d="M351.91 1419.9V1387.89H368.71V1419.9" fill="none" stroke="#0000ff" stroke-width="2.6"/>
<path d="M360.31 1380.81V1397.13M355.31 1380.81h10M355.31 1397.13h10" fill="none" stroke="#0000ff" stroke-width="2.2"/>
<circle cx="353.84" cy="1381.74" r="4.7" fill="#0000ff"/>
<circle cx="367.08" cy="1383.89" r="4.7" fill="#0000ff"/>
<circle cx="360" cy="1398.67" r="4.7" fill="#0000ff"/>
<path d="M380.41 1419.9V1220.71H397.21V1419.9" fill="none" stroke="#ff0000" stroke-width="2.6"/>
<path d="M388.81 1210.86V1232.41M383.81 1210.86h10M383.81 1232.41h10" fill="none" stroke="#ff0000" stroke-width="2.2"/>
<circle cx="388.81" cy="1213.94" r="4.7" fill="#ff0000"/>
<circle cx="394.97" cy="1212.4" r="4.7" fill="#ff0000"/>
<circle cx="388.81" cy="1234.57" r="4.7" fill="#ff0000"/>
<path d="M357.31 1204.7V1189.31H389.11V1204.7" fill="none" stroke="#000" stroke-width="2.4"/>
<text x="384.01" y="1180.46" font-size="25.2" text-anchor="middle">+19X</text>
<text font-size="26" text-anchor="end" transform="translate(382.01 1458.2) rotate(-45) scale(0.9 1)">Rps14</text>
<line x1="450.38" y1="1420.9" x2="450.38" y2="1435.7" stroke="#000" stroke-width="2.8"/>
<path d="M427.78 1419.9V1390.05H444.58V1419.9" fill="none" stroke="#0000ff" stroke-width="2.6"/>
<path d="M436.18 1384.82V1391.9M431.18 1384.82h10M431.18 1391.9h10" fill="none" stroke="#0000ff" stroke-width="2.2"/>
<circle cx="429.1" cy="1390.05" r="4.7" fill="#0000ff"/>
<circle cx="435.87" cy="1381.74" r="4.7" fill="#0000ff"/>
<circle cx="442.95" cy="1386.35" r="4.7" fill="#0000ff"/>
<path d="M456.28 1419.9V1240.73H473.08V1419.9" fill="none" stroke="#ff0000" stroke-width="2.6"/>
<path d="M464.68 1230.87V1252.43M459.68 1230.87h10M459.68 1252.43h10" fill="none" stroke="#ff0000" stroke-width="2.2"/>
<circle cx="464.68" cy="1229.33" r="4.7" fill="#ff0000"/>
<circle cx="464.68" cy="1241.65" r="4.7" fill="#ff0000"/>
<circle cx="464.68" cy="1252.43" r="4.7" fill="#ff0000"/>
<path d="M433.18 1222.56V1207.17H464.98V1222.56" fill="none" stroke="#000" stroke-width="2.4"/>
<text x="459.88" y="1198.62" font-size="25.2" text-anchor="middle">+13X</text>
<text font-size="26" text-anchor="end" transform="translate(457.88 1458.2) rotate(-45) scale(0.9 1)">Birc5</text>
<line x1="526.25" y1="1420.9" x2="526.25" y2="1435.7" stroke="#000" stroke-width="2.8"/>
<path d="M503.65 1419.9V1387.28H520.45V1419.9" fill="none" stroke="#0000ff" stroke-width="2.6"/>
<path d="M512.05 1381.74V1393.13M507.05 1381.74h10M507.05 1393.13h10" fill="none" stroke="#0000ff" stroke-width="2.2"/>
<circle cx="512.36" cy="1394.05" r="4.7" fill="#0000ff"/>
<circle cx="518.52" cy="1381.74" r="4.7" fill="#0000ff"/>
<circle cx="510.82" cy="1384.82" r="4.7" fill="#0000ff"/>
<path d="M532.15 1419.9V1193H548.95V1419.9" fill="none" stroke="#ff0000" stroke-width="2.6"/>
<path d="M540.55 1184.69V1203.17M535.55 1184.69h10M535.55 1203.17h10" fill="none" stroke="#ff0000" stroke-width="2.2"/>
<circle cx="535.32" cy="1186.23" r="4.7" fill="#ff0000"/>
<circle cx="547.02" cy="1187.77" r="4.7" fill="#ff0000"/>
<circle cx="540.55" cy="1204.09" r="4.7" fill="#ff0000"/>
<path d="M509.05 1180.07V1164.68H540.85V1180.07" fill="none" stroke="#000" stroke-width="2.4"/>
<text x="535.75" y="1155.52" font-size="25.2" text-anchor="middle">+30X</text>
<text font-size="26" text-anchor="end" transform="translate(533.75 1458.2) rotate(-45) scale(0.9 1)">Rack1</text>
<line x1="602.12" y1="1420.9" x2="602.12" y2="1435.7" stroke="#000" stroke-width="2.8"/>
<path d="M579.52 1419.9V1387.89H596.32V1419.9" fill="none" stroke="#0000ff" stroke-width="2.6"/>
<path d="M587.92 1380.2V1397.13M582.92 1380.2h10M582.92 1397.13h10" fill="none" stroke="#0000ff" stroke-width="2.2"/>
<circle cx="582.07" cy="1381.74" r="4.7" fill="#0000ff"/>
<circle cx="594.39" cy="1383.28" r="4.7" fill="#0000ff"/>
<circle cx="587.92" cy="1398.67" r="4.7" fill="#0000ff"/>
<path d="M608.02 1419.9V1203.78H624.82V1419.9" fill="none" stroke="#ff0000" stroke-width="2.6"/>
<path d="M616.42 1187.16V1223.18M611.42 1187.16h10M611.42 1223.18h10" fill="none" stroke="#ff0000" stroke-width="2.2"/>
<circle cx="616.42" cy="1187.16" r="4.7" fill="#ff0000"/>
<circle cx="616.42" cy="1207.78" r="4.7" fill="#ff0000"/>
<circle cx="616.42" cy="1220.1" r="4.7" fill="#ff0000"/>
<path d="M584.92 1181.61V1166.22H616.72V1181.61" fill="none" stroke="#000" stroke-width="2.4"/>
<text x="611.62" y="1157.37" font-size="25.2" text-anchor="middle">+26X</text>
<text font-size="26" text-anchor="end" transform="translate(609.62 1458.2) rotate(-45) scale(0.9 1)">Cetn2</text>
<line x1="677.99" y1="1420.9" x2="677.99" y2="1435.7" stroke="#000" stroke-width="2.8"/>
<path d="M655.39 1419.9V1387.89H672.19V1419.9" fill="none" stroke="#0000ff" stroke-width="2.6"/>
<path d="M663.79 1380.2V1397.13M658.79 1380.2h10M658.79 1397.13h10" fill="none" stroke="#0000ff" stroke-width="2.2"/>
<circle cx="658.25" cy="1381.74" r="4.7" fill="#0000ff"/>
<circle cx="670.56" cy="1383.28" r="4.7" fill="#0000ff"/>
<circle cx="663.79" cy="1398.67" r="4.7" fill="#0000ff"/>
<path d="M683.89 1419.9V1218.56H700.69V1419.9" fill="none" stroke="#ff0000" stroke-width="2.6"/>
<path d="M692.29 1213.33V1224.72M687.29 1213.33h10M687.29 1224.72h10" fill="none" stroke="#ff0000" stroke-width="2.2"/>
<circle cx="690.13" cy="1215.48" r="4.7" fill="#ff0000"/>
<circle cx="698.76" cy="1214.86" r="4.7" fill="#ff0000"/>
<circle cx="692.29" cy="1225.33" r="4.7" fill="#ff0000"/>
<path d="M660.79 1204.7V1189.31H692.59V1204.7" fill="none" stroke="#000" stroke-width="2.4"/>
<text x="687.49" y="1180.46" font-size="25.2" text-anchor="middle">+20X</text>
<text font-size="26" text-anchor="end" transform="translate(685.49 1458.2) rotate(-45) scale(0.9 1)">Txnip</text>
<line x1="753.86" y1="1420.9" x2="753.86" y2="1435.7" stroke="#000" stroke-width="2.8"/>
<path d="M731.26 1419.9V1389.43H748.06V1419.9" fill="none" stroke="#0000ff" stroke-width="2.6"/>
<path d="M739.66 1382.66V1395.59M734.66 1382.66h10M734.66 1395.59h10" fill="none" stroke="#0000ff" stroke-width="2.2"/>
<circle cx="739.66" cy="1381.74" r="4.7" fill="#0000ff"/>
<circle cx="739.66" cy="1394.05" r="4.7" fill="#0000ff"/>
<circle cx="739.66" cy="1387.89" r="4.7" fill="#0000ff"/>
<path d="M759.76 1419.9V1219.17H776.56V1419.9" fill="none" stroke="#ff0000" stroke-width="2.6"/>
<path d="M768.16 1210.86V1226.26M763.16 1210.86h10M763.16 1226.26h10" fill="none" stroke="#ff0000" stroke-width="2.2"/>
<circle cx="768.16" cy="1215.48" r="4.7" fill="#ff0000"/>
<circle cx="774.93" cy="1211.48" r="4.7" fill="#ff0000"/>
<circle cx="768.16" cy="1226.26" r="4.7" fill="#ff0000"/>
<path d="M736.66 1207.17V1191.77H768.46V1207.17" fill="none" stroke="#000" stroke-width="2.4"/>
<text x="763.36" y="1183.23" font-size="25.2" text-anchor="middle">+20X</text>
<text font-size="26" text-anchor="end" transform="translate(761.36 1458.2) rotate(-45) scale(0.9 1)">Gtf2h5</text>
<line x1="829.73" y1="1420.9" x2="829.73" y2="1435.7" stroke="#000" stroke-width="2.8"/>
<path d="M807.13 1419.9V1387.28H823.93V1419.9" fill="none" stroke="#0000ff" stroke-width="2.6"/>
<path d="M815.53 1381.74V1392.51M810.53 1381.74h10M810.53 1392.51h10" fill="none" stroke="#0000ff" stroke-width="2.2"/>
<circle cx="814.91" cy="1392.51" r="4.7" fill="#0000ff"/>
<circle cx="822" cy="1381.74" r="4.7" fill="#0000ff"/>
<circle cx="816.45" cy="1383.89" r="4.7" fill="#0000ff"/>
<path d="M835.63 1419.9V1145.28H852.43V1419.9" fill="none" stroke="#ff0000" stroke-width="2.6"/>
<path d="M844.03 1136.97V1152.36M839.03 1136.97h10M839.03 1152.36h10" fill="none" stroke="#ff0000" stroke-width="2.2"/>
<circle cx="844.03" cy="1136.97" r="4.7" fill="#ff0000"/>
<circle cx="844.03" cy="1144.67" r="4.7" fill="#ff0000"/>
<circle cx="844.03" cy="1151.44" r="4.7" fill="#ff0000"/>
<path d="M812.53 1131.43V1115.42H844.33V1131.43" fill="none" stroke="#000" stroke-width="2.4"/>
<text x="839.23" y="1107.18" font-size="25.2" text-anchor="middle">+71X</text>
<text font-size="26" text-anchor="end" transform="translate(837.23 1458.2) rotate(-45) scale(0.9 1)">Rpl5</text>
<line x1="905.6" y1="1420.9" x2="905.6" y2="1435.7" stroke="#000" stroke-width="2.8"/>
<path d="M883 1419.9V1387.89H899.8V1419.9" fill="none" stroke="#0000ff" stroke-width="2.6"/>
<path d="M891.4 1380.2V1396.21M886.4 1380.2h10M886.4 1396.21h10" fill="none" stroke="#0000ff" stroke-width="2.2"/>
<circle cx="884.32" cy="1381.74" r="4.7" fill="#0000ff"/>
<circle cx="897.25" cy="1383.89" r="4.7" fill="#0000ff"/>
<circle cx="891.4" cy="1397.13" r="4.7" fill="#0000ff"/>
<path d="M911.5 1419.9V1188.39H928.3V1419.9" fill="none" stroke="#ff0000" stroke-width="2.6"/>
<path d="M919.9 1178.53V1198.55M914.9 1178.53h10M914.9 1198.55h10" fill="none" stroke="#ff0000" stroke-width="2.2"/>
<circle cx="919.9" cy="1180.69" r="4.7" fill="#ff0000"/>
<circle cx="926.06" cy="1179.46" r="4.7" fill="#ff0000"/>
<circle cx="919.9" cy="1200.09" r="4.7" fill="#ff0000"/>
<path d="M888.4 1170.84V1156.06H920.2V1170.84" fill="none" stroke="#000" stroke-width="2.4"/>
<text x="915.1" y="1146.28" font-size="25.2" text-anchor="middle">+34X</text>
<text font-size="26" text-anchor="end" transform="translate(913.1 1458.2) rotate(-45) scale(0.9 1)">Rpl34</text>
<circle cx="267.2" cy="1100.6" r="4.7" fill="#0000ff"/>
<text x="300" y="1110" font-size="25.4">WT MII</text>
<circle cx="541" cy="1100" r="4.7" fill="#ff0000"/>
<text x="572" y="1109.5" font-size="25.2">Nat10-ZcKO MII</text>
<line x1="100" y1="1515" x2="352.2" y2="1515" stroke="#000" stroke-width="2.6"/>
<text x="238.3" y="1544.2" font-size="25.4" text-anchor="middle">Translation</text>
<line x1="391" y1="1515" x2="644.7" y2="1515" stroke="#000" stroke-width="2.6"/>
<text x="525.6" y="1544.2" font-size="25.4" text-anchor="middle">Cell cycle</text>
<line x1="692.7" y1="1515" x2="894.7" y2="1515" stroke="#000" stroke-width="2.6"/>
<text x="803.9" y="1544.2" font-size="25.4" text-anchor="middle">rRNA processing</text>
</g>
<g id="pg">
<text x="8.5" y="1577" font-size="34">g</text>
<path d="M102.8 1618.6V1881.5" fill="none" stroke="#000" stroke-width="3.6"/>
<line x1="91.4" y1="1620.4" x2="102.8" y2="1620.4" stroke="#000" stroke-width="3.6"/>
<text x="85.5" y="1629.4" font-size="25" text-anchor="end">10</text>
<line x1="91.4" y1="1750.4" x2="102.8" y2="1750.4" stroke="#000" stroke-width="3.6"/>
<text x="85.5" y="1759.4" font-size="25" text-anchor="end">5</text>
<line x1="91.4" y1="1880" x2="102.8" y2="1880" stroke="#000" stroke-width="3.6"/>
<text x="85.5" y="1889" font-size="25" text-anchor="end">0</text>
<text font-size="26.3" text-anchor="middle" transform="translate(38.6 1753.7) rotate(-90)">log<tspan dy="4" font-size="18">2</tspan><tspan dy="-4">(TPM+1)</tspan></text>
<path d="M138.98 1661.89V1767.19M138.98 1871.94V1880M129.78 1661.89H148.18M129.78 1880H148.18" fill="none" stroke="#0000ff" stroke-width="3.9"/>
<rect x="123.06" y="1769.29" width="31.82" height="100.55" fill="none" stroke="#0000ff" stroke-width="4.2" stroke-linejoin="round"/>
<line x1="123.06" y1="1833.14" x2="154.89" y2="1833.14" stroke="#0000ff" stroke-width="4.2"/>
<path d="M194.58 1660.41V1768.11M194.58 1870.09V1880M185.38 1660.41H203.78M185.38 1880H203.78" fill="none" stroke="#ff0000" stroke-width="3.9"/>
<rect x="178.86" y="1770.21" width="31.45" height="97.78" fill="none" stroke="#ff0000" stroke-width="4.2" stroke-linejoin="round"/>
<line x1="178.86" y1="1830" x2="210.31" y2="1830" stroke="#ff0000" stroke-width="4.2"/>
<path d="M250.19 1669.28V1780.12M250.19 1878.03V1880M240.99 1669.28H259.39M240.99 1880H259.39" fill="none" stroke="#0000ff" stroke-width="3.9"/>
<rect x="234.28" y="1782.22" width="31.82" height="93.71" fill="none" stroke="#0000ff" stroke-width="4.2" stroke-linejoin="round"/>
<line x1="234.28" y1="1846.63" x2="266.1" y2="1846.63" stroke="#0000ff" stroke-width="4.2"/>
<path d="M305.8 1667.98V1775.13M305.8 1871.57V1880M296.6 1667.98H315M296.6 1880H315" fill="none" stroke="#ff0000" stroke-width="3.9"/>
<rect x="289.88" y="1777.23" width="31.82" height="92.23" fill="none" stroke="#ff0000" stroke-width="4.2" stroke-linejoin="round"/>
<line x1="289.88" y1="1838.32" x2="321.71" y2="1838.32" stroke="#ff0000" stroke-width="4.2"/>
<path d="M102.5 1880H345" fill="none" stroke="#000" stroke-width="5.7" stroke-linecap="round" stroke-dasharray="0 7.6"/>
<path d="M138.18 1641.11V1628.7H196.29V1641.11" fill="none" stroke="#000" stroke-width="3.6"/>
<path d="M249.13 1652.89V1640.08H308.46V1652.89" fill="none" stroke="#000" stroke-width="3.6"/>
<text x="180.04" y="1619.57" font-size="25" text-anchor="middle">p=0.056</text>
<text x="290.17" y="1630.95" font-size="24.8" text-anchor="middle">p&lt;0.0001</text>
<text font-size="25.8" text-anchor="end" transform="translate(148.98 1905) rotate(-45) scale(0.91 1)">WT</text>
<text font-size="25.8" text-anchor="end" transform="translate(204.58 1905) rotate(-45) scale(0.91 1)">Nat10-ZcKO</text>
<text font-size="25.8" text-anchor="end" transform="translate(260.19 1905) rotate(-45) scale(0.91 1)">WT</text>
<text font-size="25.8" text-anchor="end" transform="translate(315.8 1905) rotate(-45) scale(0.91 1)">Nat10-ZcKO</text>
<line x1="14.2" y1="2007.8" x2="132.1" y2="2007.8" stroke="#000" stroke-width="3"/>
<line x1="147.1" y1="2007.8" x2="266.2" y2="2007.8" stroke="#000" stroke-width="3"/>
<text x="79.3" y="2038.2" font-size="25" text-anchor="middle">GV</text>
<text x="205.8" y="2038.2" font-size="25" text-anchor="middle">MII</text>
</g>
<g id="ph">
<text x="371.5" y="1596" font-size="34">h</text>
<path d="M441 1617.8V1891H623.8M429.5 1891H441" fill="none" stroke="#000" stroke-width="3.6"/>
<line x1="429.5" y1="1619.6" x2="441" y2="1619.6" stroke="#000" stroke-width="3.6"/>
<text x="428.5" y="1628.6" font-size="25" text-anchor="end">5</text>
<line x1="429.5" y1="1755.3" x2="441" y2="1755.3" stroke="#000" stroke-width="3.6"/>
<text x="428.5" y="1764.3" font-size="25" text-anchor="end">0</text>
<text x="428.5" y="1900" font-size="25" text-anchor="end">-5</text>
<line x1="433.7" y1="1687.4" x2="441" y2="1687.4" stroke="#000" stroke-width="3.6"/>
<line x1="433.7" y1="1823.2" x2="441" y2="1823.2" stroke="#000" stroke-width="3.6"/>
<text font-size="25.6" text-anchor="middle" transform="translate(400.3 1749.6) rotate(-90)">log<tspan dy="4" font-size="18">2</tspan><tspan dy="-4">(FC[MII/GV])</tspan></text>
<path d="M492.29 1687.04V1734.87M492.29 1789.02V1857.08M479.69 1687.04H504.89M479.69 1857.08H504.89" fill="none" stroke="#0000ff" stroke-width="3.9"/>
<rect x="469.1" y="1736.97" width="46.37" height="49.95" fill="none" stroke="#0000ff" stroke-width="4.2" stroke-linejoin="round"/>
<line x1="469.1" y1="1761.63" x2="515.47" y2="1761.63" stroke="#0000ff" stroke-width="4.2"/>
<line x1="492.29" y1="1891" x2="492.29" y2="1902.5" stroke="#000" stroke-width="3.6"/>
<text font-size="25.8" text-anchor="end" transform="translate(501.29 1922) rotate(-45) scale(0.91 1)">WT</text>
<path d="M569.93 1668.5V1729.6M569.93 1786.07V1850.12M557.33 1668.5H582.53M557.33 1850.12H582.53" fill="none" stroke="#ff0000" stroke-width="3.9"/>
<rect x="546.43" y="1731.7" width="47" height="52.27" fill="none" stroke="#ff0000" stroke-width="4.2" stroke-linejoin="round"/>
<line x1="546.43" y1="1751.72" x2="593.43" y2="1751.72" stroke="#ff0000" stroke-width="4.2"/>
<line x1="569.93" y1="1891" x2="569.93" y2="1902.5" stroke="#000" stroke-width="3.6"/>
<text font-size="25.8" text-anchor="end" transform="translate(578.93 1922) rotate(-45) scale(0.91 1)">Nat10-ZcKO</text>
<path d="M445.5 1755.3H624" fill="none" stroke="#000" stroke-width="5.7" stroke-linecap="round" stroke-dasharray="0 7.6"/>
<path d="M491.7 1643.14V1630.73H571V1643.14" fill="none" stroke="#000" stroke-width="3.6"/>
<text x="542.55" y="1624.35" font-size="24.8" text-anchor="middle">p&lt;0.0001</text>
</g>
<g id="pi">
<text x="624" y="1585" font-size="34">i</text>
<path d="M759.74 1817.88H1176" fill="none" stroke="#000" stroke-width="3.8" stroke-linecap="round" stroke-dasharray="0 8.85"/>
<path d="M752.9 1638.2V1996.1H1176.1M741.4 1996.1H752.9" fill="none" stroke="#000" stroke-width="4"/>
<line x1="741.4" y1="1640.2" x2="752.9" y2="1640.2" stroke="#000" stroke-width="4"/>
<text x="733.5" y="1649.2" font-size="25" text-anchor="end">4</text>
<line x1="741.4" y1="1729.2" x2="752.9" y2="1729.2" stroke="#000" stroke-width="4"/>
<text x="733.5" y="1738.2" font-size="25" text-anchor="end">2</text>
<line x1="741.4" y1="1817.9" x2="752.9" y2="1817.9" stroke="#000" stroke-width="4"/>
<text x="733.5" y="1826.9" font-size="25" text-anchor="end">0</text>
<line x1="741.4" y1="1906.5" x2="752.9" y2="1906.5" stroke="#000" stroke-width="4"/>
<text x="733.5" y="1915.5" font-size="25" text-anchor="end">-2</text>
<text x="733.5" y="2005.1" font-size="25" text-anchor="end">-4</text>
<text font-size="25.6" text-anchor="middle" transform="translate(673.6 1788) rotate(-90)">Expression level in each class</text>
<text font-size="24.5" text-anchor="middle" transform="translate(705.8 1809) rotate(-90)">log<tspan dy="3" font-size="19">2</tspan><tspan dy="-3">(TPM)</tspan></text>
<path d="M764.84 1866.6V1885.86M757.54 1866.6h14.6M757.54 1885.86h14.6" fill="none" stroke="#1a9bb5" stroke-width="2.3"/>
<rect x="756.94" y="1868.05" width="15.8" height="15.8" fill="#1a9bb5"/>
<path d="M784.67 1849.61V1911.07M777.37 1849.61h14.6M777.37 1911.07h14.6" fill="none" stroke="#f98b8b" stroke-width="2.3"/>
<rect x="776.77" y="1872.3" width="15.8" height="15.8" fill="#f98b8b"/>
<path d="M804.21 1861.5V1915.32M796.91 1861.5h14.6M796.91 1915.32h14.6" fill="none" stroke="#0000ff" stroke-width="2.3"/>
<rect x="796.31" y="1880.51" width="15.8" height="15.8" fill="#0000ff"/>
<path d="M824.04 1841.96V1904.84M816.74 1841.96h14.6M816.74 1904.84h14.6" fill="none" stroke="#ff0000" stroke-width="2.3"/>
<rect x="816.14" y="1865.22" width="15.8" height="15.8" fill="#ff0000"/>
<path d="M843.3 1827.51V1852.16M836 1827.51h14.6M836 1852.16h14.6" fill="none" stroke="#1a9bb5" stroke-width="2.3"/>
<rect x="835.4" y="1831.79" width="15.8" height="15.8" fill="#1a9bb5"/>
<path d="M863.13 1814.2V1892.1M855.83 1814.2h14.6M855.83 1892.1h14.6" fill="none" stroke="#f98b8b" stroke-width="2.3"/>
<rect x="855.23" y="1845.11" width="15.8" height="15.8" fill="#f98b8b"/>
<path d="M882.96 1826.66V1903.43M875.66 1826.66h14.6M875.66 1903.43h14.6" fill="none" stroke="#0000ff" stroke-width="2.3"/>
<rect x="875.06" y="1856.72" width="15.8" height="15.8" fill="#0000ff"/>
<path d="M902.5 1813.07V1888.13M895.2 1813.07h14.6M895.2 1888.13h14.6" fill="none" stroke="#ff0000" stroke-width="2.3"/>
<rect x="894.6" y="1842.56" width="15.8" height="15.8" fill="#ff0000"/>
<path d="M922.05 1782.48V1808.25M914.75 1782.48h14.6M914.75 1808.25h14.6" fill="none" stroke="#1a9bb5" stroke-width="2.3"/>
<rect x="914.15" y="1787.61" width="15.8" height="15.8" fill="#1a9bb5"/>
<path d="M941.59 1770.58V1829.5M934.29 1770.58h14.6M934.29 1829.5h14.6" fill="none" stroke="#f98b8b" stroke-width="2.3"/>
<rect x="933.69" y="1792.14" width="15.8" height="15.8" fill="#f98b8b"/>
<path d="M961.42 1772.28V1851.02M954.12 1772.28h14.6M954.12 1851.02h14.6" fill="none" stroke="#0000ff" stroke-width="2.3"/>
<rect x="953.52" y="1803.47" width="15.8" height="15.8" fill="#0000ff"/>
<path d="M980.96 1772.56V1834.6M973.66 1772.56h14.6M973.66 1834.6h14.6" fill="none" stroke="#ff0000" stroke-width="2.3"/>
<rect x="973.06" y="1795.54" width="15.8" height="15.8" fill="#ff0000"/>
<path d="M1000.51 1741.12V1766.05M993.21 1741.12h14.6M993.21 1766.05h14.6" fill="none" stroke="#1a9bb5" stroke-width="2.3"/>
<rect x="992.61" y="1745.68" width="15.8" height="15.8" fill="#1a9bb5"/>
<path d="M1020.34 1737.16V1774.55M1013.04 1737.16h14.6M1013.04 1774.55h14.6" fill="none" stroke="#f98b8b" stroke-width="2.3"/>
<rect x="1012.44" y="1748.23" width="15.8" height="15.8" fill="#f98b8b"/>
<path d="M1039.88 1733.76V1790.41M1032.58 1733.76h14.6M1032.58 1790.41h14.6" fill="none" stroke="#0000ff" stroke-width="2.3"/>
<rect x="1031.98" y="1753.9" width="15.8" height="15.8" fill="#0000ff"/>
<path d="M1059.42 1737.72V1780.49M1052.12 1737.72h14.6M1052.12 1780.49h14.6" fill="none" stroke="#ff0000" stroke-width="2.3"/>
<rect x="1051.52" y="1751.35" width="15.8" height="15.8" fill="#ff0000"/>
<path d="M1078.97 1696.37V1726.39M1071.67 1696.37h14.6M1071.67 1726.39h14.6" fill="none" stroke="#1a9bb5" stroke-width="2.3"/>
<rect x="1071.07" y="1703.48" width="15.8" height="15.8" fill="#1a9bb5"/>
<path d="M1098.51 1693.82V1730.64M1091.21 1693.82h14.6M1091.21 1730.64h14.6" fill="none" stroke="#f98b8b" stroke-width="2.3"/>
<rect x="1090.61" y="1704.33" width="15.8" height="15.8" fill="#f98b8b"/>
<path d="M1118.06 1695.8V1751.6M1110.76 1695.8h14.6M1110.76 1751.6h14.6" fill="none" stroke="#0000ff" stroke-width="2.3"/>
<rect x="1110.16" y="1715.66" width="15.8" height="15.8" fill="#0000ff"/>
<path d="M1137.6 1695.52V1739.71M1130.3 1695.52h14.6M1130.3 1739.71h14.6" fill="none" stroke="#ff0000" stroke-width="2.3"/>
<rect x="1129.7" y="1709.43" width="15.8" height="15.8" fill="#ff0000"/>
<path d="M763.99 1846.21V1837.43H784.67V1846.21" fill="none" stroke="#000" stroke-width="1.9"/>
<text x="778.72" y="1841.15" font-size="25" text-anchor="middle" style="stroke-width:0">****</text>
<path d="M804.21 1839.13V1830.35H824.61V1839.13" fill="none" stroke="#000" stroke-width="1.9"/>
<text x="818.38" y="1835.48" font-size="25" text-anchor="middle" style="stroke-width:0">****</text>
<path d="M841.89 1810.8V1802.87H862.56V1810.8" fill="none" stroke="#000" stroke-width="1.9"/>
<text x="856.33" y="1807.16" font-size="25" text-anchor="middle" style="stroke-width:0">****</text>
<path d="M882.11 1809.39V1801.74H903.07V1809.39" fill="none" stroke="#000" stroke-width="1.9"/>
<text x="896.55" y="1805.17" font-size="25" text-anchor="middle" style="stroke-width:0">****</text>
<path d="M920.63 1767.46V1760.38H941.59V1767.46" fill="none" stroke="#000" stroke-width="1.9"/>
<text x="935.93" y="1764.1" font-size="25" text-anchor="middle" style="stroke-width:0">****</text>
<path d="M959.72 1767.46V1759.53H980.4V1767.46" fill="none" stroke="#000" stroke-width="1.9"/>
<text x="973.88" y="1761.84" font-size="25" text-anchor="middle" style="stroke-width:0">****</text>
<path d="M999.37 1732.06V1723.84H1020.34V1732.06" fill="none" stroke="#000" stroke-width="1.9"/>
<text x="1015.24" y="1727.85" font-size="25" text-anchor="middle" style="stroke-width:0">****</text>
<path d="M1038.46 1729.23V1722.14H1059.14V1729.23" fill="none" stroke="#000" stroke-width="1.9"/>
<text x="1053.48" y="1726.43" font-size="25" text-anchor="middle" style="stroke-width:0">****</text>
<path d="M1078.4 1688.15V1681.64H1098.8V1688.15" fill="none" stroke="#000" stroke-width="1.9"/>
<text x="1093.98" y="1678.24" font-size="25.5" text-anchor="middle">n.s</text>
<path d="M1117.21 1688.15V1679.66H1137.6V1688.15" fill="none" stroke="#000" stroke-width="1.9"/>
<text x="1132.79" y="1684.79" font-size="25" text-anchor="middle" style="stroke-width:0">****</text>
<line x1="803.4" y1="1996.1" x2="803.4" y2="2009.2" stroke="#000" stroke-width="4"/>
<text x="810.1" y="2033" font-size="25.5" text-anchor="middle">1st</text>
<line x1="881.93" y1="1996.1" x2="881.93" y2="2009.2" stroke="#000" stroke-width="4"/>
<text x="888.63" y="2033" font-size="25.5" text-anchor="middle">2nd</text>
<line x1="960.46" y1="1996.1" x2="960.46" y2="2009.2" stroke="#000" stroke-width="4"/>
<text x="967.16" y="2033" font-size="25.5" text-anchor="middle">3rd</text>
<line x1="1038.99" y1="1996.1" x2="1038.99" y2="2009.2" stroke="#000" stroke-width="4"/>
<text x="1045.69" y="2033" font-size="25.5" text-anchor="middle">4th</text>
<line x1="1117.52" y1="1996.1" x2="1117.52" y2="2009.2" stroke="#000" stroke-width="4"/>
<text x="1124.22" y="2033" font-size="25.5" text-anchor="middle">5th</text>
<rect x="1046.8" y="1534.3" width="20" height="20" fill="#1a9bb5" stroke="#000" stroke-width="1.1"/>
<text x="1080.6" y="1553.5" font-size="25.4">WT GV</text>
<rect x="1046.8" y="1565.7" width="20" height="20" fill="#f98b8b" stroke="#000" stroke-width="1.1"/>
<text x="1080.6" y="1584.9" font-size="25.4">Nat10-ZcKO GV</text>
<rect x="1046.8" y="1597.9" width="20" height="20" fill="#0000cd" stroke="#000" stroke-width="1.1"/>
<text x="1083.6" y="1617.1" font-size="25.4">WT MII</text>
<rect x="1046.8" y="1629.8" width="20" height="20" fill="#ff0000" stroke="#000" stroke-width="1.1"/>
<text x="1082.7" y="1649" font-size="25.4">Nat10-ZcKO MII</text>
</g>
<g id="pj">
<text x="1274.5" y="1528" font-size="34">j</text>
<text x="1324.5" y="1540.3" font-size="25.3">Nat10-cKO MII</text>
<text x="1683.5" y="1540.3" font-size="25.4">WT MII</text>
<rect x="1428.1" y="1557.6" width="245.3" height="12" fill="#fcfac0"/>
<rect x="1428.1" y="2016.5" width="245.3" height="12" fill="#fad9f2"/>
<path d="M1428.1 1624.4Q1539.2 1718 1673.4 1765.4L1673.4 2011.9Q1550.8 1972.4 1428.1 1860.4Z" fill="#fad9f2"/>
<path d="M1428.1 1569.6Q1547.8 1613.6 1673.4 1624.4L1673.4 1674.5Q1548.3 1665.48 1428.1 1624.4Z" fill="#dbfdfd"/>
<path d="M1428.1 1922.3Q1636.1 1751.7 1673.4 1675L1673.4 1765.4Q1627.7 1854.7 1428.1 2016.1Z" fill="#dbfdfd"/>
<path d="M1428.1 1860.4Q1618.6 1684.5 1673.4 1569.6L1673.4 1624.4Q1635.7 1721.3 1428.1 1922.3Z" fill="#fcfac0"/>
<g fill="none" stroke="#000" stroke-width="1.3">
<path d="M1428.1 1624.4Q1539.2 1718 1673.4 1765.4L1673.4 2011.9Q1550.8 1972.4 1428.1 1860.4Z"/>
<path d="M1428.1 1569.6Q1547.8 1613.6 1673.4 1624.4L1673.4 1674.5Q1548.3 1665.48 1428.1 1624.4Z"/>
<path d="M1428.1 1922.3Q1636.1 1751.7 1673.4 1675L1673.4 1765.4Q1627.7 1854.7 1428.1 2016.1Z"/>
<path d="M1428.1 1860.4Q1618.6 1684.5 1673.4 1569.6L1673.4 1624.4Q1635.7 1721.3 1428.1 1922.3Z"/>
<rect x="1428.1" y="1557.6" width="245.3" height="12"/>
<rect x="1428.1" y="2016.5" width="245.3" height="12"/>
</g>
<g stroke="#111" stroke-width="1.8">
<rect x="1320" y="1557.6" width="108.1" height="302.8" fill="#f68b94"/>
<rect x="1320" y="1860.4" width="108.1" height="168.1" fill="#7f88f5"/>
<rect x="1673.4" y="1557.6" width="108.1" height="66.6" fill="#fcfac0"/>
<rect x="1673.4" y="1624.2" width="108.1" height="141.2" fill="#dbfdfd"/>
<rect x="1673.4" y="1765.4" width="108.1" height="263.1" fill="#fad9f2"/>
</g>
<text x="1375" y="1698.9" font-size="25.7" text-anchor="middle">Up</text>
<text x="1368.5" y="1738.7" font-size="25.7" text-anchor="middle">1196</text>
<text x="1368.5" y="1937" font-size="25.7" text-anchor="middle">Down</text>
<text x="1369.5" y="1970.3" font-size="25.7" text-anchor="middle">555</text>
<text x="1728" y="1584.9" font-size="25.7" text-anchor="middle">Up</text>
<text x="1727" y="1617.9" font-size="25.7" text-anchor="middle">226</text>
<text x="1720.6" y="1693.4" font-size="25.7" text-anchor="middle">Stable</text>
<text x="1728" y="1725.5" font-size="25.7" text-anchor="middle">561</text>
<text x="1721.5" y="1888.4" font-size="25.7" text-anchor="middle">Down</text>
<text x="1726.4" y="1921.7" font-size="25.7" text-anchor="middle">965</text>
<text x="1568.7" y="1569.4" font-size="25.7" text-anchor="middle">n=7</text>
<text x="1573.2" y="1645.5" font-size="25.7" text-anchor="middle">n=212</text>
<text x="1561.2" y="1774.4" font-size="25.7" text-anchor="middle">n=199</text>
<text x="1573.2" y="1855.3" font-size="25.7" text-anchor="middle">n=348</text>
<text x="1629.9" y="1920.8" font-size="25.7" text-anchor="middle">n=957</text>
<text x="1573.5" y="2028.3" font-size="25.7" text-anchor="middle">n=8</text>
</g>
<g id="pk">
<text x="48.5" y="2116.3" font-size="34">k</text>
<circle cx="230.1" cy="2287.4" r="146.4" fill="none" stroke="#0000ff" stroke-width="7.4"/>
<circle cx="359.3" cy="2290.3" r="111.4" fill="none" stroke="#ff0844" stroke-width="7.2"/>
<line x1="348.8" y1="2123.2" x2="329.5" y2="2200" stroke="#000" stroke-width="5"/>
<path d="M319.2 2230.6L315.2 2191C319.5 2199 324 2203.5 328.6 2205.6C333 2206.3 337.5 2204.8 342 2201.5Z" fill="#000"/>
<text x="299.3" y="2113.3" font-size="25.2">Nat10-unrelated</text>
<circle cx="490.6" cy="2184" r="12.2" fill="none" stroke="#0000ff" stroke-width="2"/>
<circle cx="491.6" cy="2218.4" r="12.2" fill="none" stroke="#ff0844" stroke-width="2"/>
<text x="520.9" y="2194.3" font-size="25.2">WT</text>
<text x="520.9" y="2230.6" font-size="25.2">Nat10-ZcKO</text>
<text x="84" y="2272" font-size="25.1">Nat10-related</text>
<text x="184.7" y="2306" font-size="25.2" text-anchor="middle">1416</text>
<text x="322.5" y="2306" font-size="25.2" text-anchor="middle">595</text>
<text x="427.4" y="2306" font-size="25.2" text-anchor="middle">611</text>
<text x="482.4" y="2327.3" font-size="25.1">TPM[GV] ≥ 1</text>
<text x="482.4" y="2371.6" font-size="25.3">FC[GV/MII] ≥ 5</text>
</g>
<g id="pl">
<text x="727" y="2104" font-size="42">l</text>
<defs><linearGradient id="gl1" gradientUnits="userSpaceOnUse" x1="953.8" y1="2181" x2="933.34" y2="2327.14"><stop offset="0" stop-color="#febf86" stop-opacity="0"/><stop offset="0.04" stop-color="#febf86" stop-opacity="0.04"/><stop offset="0.13" stop-color="#febf86" stop-opacity="0.07"/><stop offset="0.3" stop-color="#febf86" stop-opacity="0.09"/><stop offset="0.4" stop-color="#febf86" stop-opacity="0.16"/><stop offset="0.46" stop-color="#febf86" stop-opacity="0.3"/><stop offset="0.54" stop-color="#febf86" stop-opacity="0.5"/><stop offset="0.63" stop-color="#febf86" stop-opacity="0.7"/><stop offset="0.73" stop-color="#febf86" stop-opacity="0.85"/><stop offset="0.87" stop-color="#febf86" stop-opacity="0.95"/><stop offset="1" stop-color="#febf86" stop-opacity="1"/></linearGradient></defs>
<polygon points="953.8,2181 1123,2211 1123,2455 953.8,2433" fill="url(#gl1)"/>
<path d="M953.8 2259.1L1123 2292.2M953.8 2314.4L1123 2345.0M953.8 2266.2L1123 2300.0M953.8 2220.9L1123 2252.7M953.8 2281.1L1123 2320.5M953.8 2205.1L1123 2231.2M953.8 2204.4L1123 2244.2M953.8 2288.6L1123 2307.7M953.8 2320.7L1123 2364.7M953.8 2283.9L1123 2318.6M953.8 2216.4L1123 2234.8M953.8 2268.7L1123 2288.3M953.8 2221.8L1123 2246.3M953.8 2191.2L1123 2221.8M953.8 2257.5L1123 2298.3M953.8 2267.6L1123 2302.9M953.8 2265.1L1123 2301.0M953.8 2259.7L1123 2285.2M953.8 2322.3L1123 2367.2M953.8 2305.2L1123 2342.3M953.8 2240.6L1123 2264.8M953.8 2236.8L1123 2256.7M953.8 2296.9L1123 2325.7M953.8 2305.9L1123 2334.4M953.8 2318.1L1123 2358.9M953.8 2181.5L1123 2209.0M953.8 2312.9L1123 2343.6M953.8 2320.5L1123 2349.2M953.8 2200.9L1123 2235.9M953.8 2298.3L1123 2323.6M953.8 2203.7L1123 2230.7M953.8 2318.7L1123 2357.2M953.8 2209.5L1123 2234.1M953.8 2206.4L1123 2226.0M953.8 2300.4L1123 2323.2M953.8 2272.5L1123 2302.6M953.8 2221.8L1123 2259.6M953.8 2211.8L1123 2247.2M953.8 2209.2L1123 2238.6M953.8 2225.4L1123 2250.6M953.8 2319.5L1123 2359.1M953.8 2239.0L1123 2280.9M953.8 2225.0L1123 2253.7M953.8 2306.8L1123 2342.1M953.8 2206.2L1123 2250.9M953.8 2225.4L1123 2250.4M953.8 2297.7L1123 2324.5M953.8 2237.9L1123 2257.8M953.8 2204.3L1123 2238.0M953.8 2230.0L1123 2264.2M953.8 2248.4L1123 2278.6M953.8 2318.2L1123 2349.2M953.8 2274.4L1123 2315.8M953.8 2220.6L1123 2242.7M953.8 2312.7L1123 2352.8M953.8 2231.0L1123 2254.1M953.8 2293.9L1123 2337.3M953.8 2222.8L1123 2266.4M953.8 2309.8L1123 2344.1M953.8 2255.0L1123 2275.8" fill="none" stroke="#febf86" stroke-width="0.9" stroke-opacity="0.2"/>
<path d="M953.8 2240.9L1123 2279.0M953.8 2280.8L1123 2312.7M953.8 2284.5L1123 2319.3M953.8 2352.4L1123 2374.4M953.8 2268.2L1123 2300.5M953.8 2246.9L1123 2267.4M953.8 2344.9L1123 2380.4M953.8 2355.9L1123 2377.6M953.8 2416.5L1123 2436.4M953.8 2236.5L1123 2257.9M953.8 2322.2L1123 2338.7M953.8 2268.4L1123 2292.2M953.8 2347.5L1123 2365.7M953.8 2305.5L1123 2341.9" fill="none" stroke="#fff" stroke-width="0.9" stroke-opacity="0.1"/>
<polygon points="953.8,2432.5 1123,2454.6 953.8,2455" fill="#febf86" fill-opacity="0.45"/>
<path d="M839.7 2118.9V2455" fill="none" stroke="#000" stroke-width="3.4"/>
<line x1="825.7" y1="2455" x2="1237.7" y2="2455" stroke="#000" stroke-width="4.4"/>
<line x1="825.7" y1="2120.5" x2="839.7" y2="2120.5" stroke="#000" stroke-width="3.4"/>
<text x="822" y="2129.5" font-size="25" text-anchor="end">15</text>
<line x1="825.7" y1="2231.9" x2="839.7" y2="2231.9" stroke="#000" stroke-width="3.4"/>
<text x="822" y="2240.9" font-size="25" text-anchor="end">10</text>
<line x1="825.7" y1="2343.6" x2="839.7" y2="2343.6" stroke="#000" stroke-width="3.4"/>
<text x="822" y="2352.6" font-size="25" text-anchor="end">5</text>
<text x="822" y="2464" font-size="25" text-anchor="end">0</text>
<line x1="953.8" y1="2455" x2="953.8" y2="2467.5" stroke="#000" stroke-width="3.4"/>
<text x="953.8" y="2495" font-size="25" text-anchor="middle">GV</text>
<line x1="1123" y1="2455" x2="1123" y2="2467.5" stroke="#000" stroke-width="3.4"/>
<text x="1123" y="2495" font-size="25" text-anchor="middle">MII</text>
<line x1="953.8" y1="2280.5" x2="1123" y2="2371.9" stroke="#0000ff" stroke-width="4.8"/>
<line x1="953.8" y1="2286.8" x2="1123" y2="2323.4" stroke="#ff0000" stroke-width="4.8"/>
<text x="1041.4" y="2175.4" font-size="25" text-anchor="middle">n=1416</text>
<line x1="1025.9" y1="2090" x2="1061.5" y2="2090" stroke="#0000ff" stroke-width="4.8"/>
<text x="1095" y="2099" font-size="25.2">WT</text>
<text font-size="25.2" text-anchor="middle" transform="translate(749.3 2288.6) rotate(-90)">Nat10-related</text>
<text font-size="25" text-anchor="middle" letter-spacing="1.5" transform="translate(786.5 2287.8) rotate(-90)">log<tspan dy="4" font-size="19">2</tspan><tspan dy="-4" dx="-3">(TPM+1)</tspan></text>
<defs><linearGradient id="gl2" gradientUnits="userSpaceOnUse" x1="1490.4" y1="2215" x2="1462.13" y2="2356.35"><stop offset="0" stop-color="#fec48e" stop-opacity="0"/><stop offset="0.05" stop-color="#fec48e" stop-opacity="0.04"/><stop offset="0.2" stop-color="#fec48e" stop-opacity="0.08"/><stop offset="0.37" stop-color="#fec48e" stop-opacity="0.12"/><stop offset="0.48" stop-color="#fec48e" stop-opacity="0.25"/><stop offset="0.58" stop-color="#fec48e" stop-opacity="0.42"/><stop offset="0.66" stop-color="#fec48e" stop-opacity="0.62"/><stop offset="0.76" stop-color="#fec48e" stop-opacity="0.8"/><stop offset="0.88" stop-color="#fec48e" stop-opacity="0.94"/><stop offset="1" stop-color="#fec48e" stop-opacity="1"/></linearGradient></defs>
<polygon points="1490.4,2215 1655,2264.5 1655,2453 1490.4,2431" fill="url(#gl2)"/>
<path d="M1490.4 2346.7L1655 2418.7M1490.4 2343.2L1655 2376.6M1490.4 2309.3L1655 2357.8M1490.4 2301.8L1655 2337.3M1490.4 2255.5L1655 2305.0M1490.4 2260.0L1655 2310.0M1490.4 2223.7L1655 2262.5M1490.4 2323.0L1655 2371.5M1490.4 2299.6L1655 2362.0M1490.4 2279.8L1655 2312.0M1490.4 2331.3L1655 2387.2M1490.4 2317.0L1655 2374.4M1490.4 2351.6L1655 2397.4M1490.4 2328.6L1655 2374.8M1490.4 2306.9L1655 2366.0M1490.4 2273.6L1655 2307.2M1490.4 2294.8L1655 2356.5M1490.4 2309.1L1655 2358.7M1490.4 2315.2L1655 2353.0M1490.4 2253.4L1655 2297.5M1490.4 2334.9L1655 2373.3M1490.4 2242.5L1655 2276.5M1490.4 2227.2L1655 2269.2M1490.4 2307.0L1655 2373.2M1490.4 2275.9L1655 2322.1M1490.4 2270.0L1655 2313.2M1490.4 2330.6L1655 2384.8M1490.4 2265.6L1655 2300.1M1490.4 2331.3L1655 2392.5M1490.4 2336.3L1655 2376.6M1490.4 2303.6L1655 2374.3M1490.4 2309.3L1655 2381.2M1490.4 2251.5L1655 2324.7M1490.4 2231.1L1655 2279.3M1490.4 2223.3L1655 2289.1M1490.4 2320.4L1655 2393.5M1490.4 2333.7L1655 2405.6M1490.4 2302.8L1655 2376.5M1490.4 2327.4L1655 2372.6M1490.4 2352.0L1655 2398.5M1490.4 2255.7L1655 2288.8M1490.4 2293.8L1655 2332.2M1490.4 2347.6L1655 2419.7M1490.4 2259.2L1655 2293.6M1490.4 2301.6L1655 2338.9M1490.4 2303.4L1655 2369.3M1490.4 2264.8L1655 2313.3M1490.4 2344.1L1655 2393.6M1490.4 2277.6L1655 2347.0M1490.4 2334.6L1655 2404.2M1490.4 2320.5L1655 2368.5M1490.4 2321.1L1655 2387.7M1490.4 2314.9L1655 2355.2M1490.4 2270.9L1655 2318.9M1490.4 2330.0L1655 2384.5M1490.4 2304.2L1655 2370.7M1490.4 2241.4L1655 2299.2M1490.4 2276.1L1655 2330.8M1490.4 2337.0L1655 2377.8M1490.4 2349.5L1655 2382.7" fill="none" stroke="#fec48e" stroke-width="0.9" stroke-opacity="0.2"/>
<path d="M1490.4 2358.9L1655 2405.1M1490.4 2305.1L1655 2352.1M1490.4 2343.9L1655 2386.5M1490.4 2384.7L1655 2409.6M1490.4 2328.5L1655 2384.4M1490.4 2289.8L1655 2348.9M1490.4 2300.0L1655 2351.7M1490.4 2294.9L1655 2337.5M1490.4 2336.0L1655 2364.0M1490.4 2381.6L1655 2425.3M1490.4 2379.8L1655 2425.9M1490.4 2357.9L1655 2403.5" fill="none" stroke="#fff" stroke-width="0.9" stroke-opacity="0.1"/>
<path d="M1378.3 2126.6V2453H1766.4M1364 2453H1378.3" fill="none" stroke="#000" stroke-width="3.4"/>
<line x1="1364" y1="2128.2" x2="1378.3" y2="2128.2" stroke="#000" stroke-width="3.4"/>
<text x="1360.5" y="2137.2" font-size="25" text-anchor="end">15</text>
<line x1="1364" y1="2237.2" x2="1378.3" y2="2237.2" stroke="#000" stroke-width="3.4"/>
<text x="1360.5" y="2246.2" font-size="25" text-anchor="end">10</text>
<line x1="1364" y1="2345.3" x2="1378.3" y2="2345.3" stroke="#000" stroke-width="3.4"/>
<text x="1360.5" y="2354.3" font-size="25" text-anchor="end">5</text>
<text x="1360.5" y="2462" font-size="25" text-anchor="end">0</text>
<line x1="1490.4" y1="2453" x2="1490.4" y2="2466.3" stroke="#000" stroke-width="3.4"/>
<text x="1490.4" y="2492.5" font-size="25" text-anchor="middle">GV</text>
<line x1="1655" y1="2453" x2="1655" y2="2466.3" stroke="#000" stroke-width="3.4"/>
<text x="1655" y="2492.5" font-size="25" text-anchor="middle">MII</text>
<line x1="1490.4" y1="2269.5" x2="1655" y2="2382.5" stroke="#0000ff" stroke-width="6"/>
<line x1="1490.4" y1="2267.8" x2="1655" y2="2340" stroke="#ff0000" stroke-width="6.4"/>
<text x="1571.5" y="2180.7" font-size="25" text-anchor="middle">n=595</text>
<line x1="1275.3" y1="2090" x2="1309.8" y2="2090" stroke="#ff0000" stroke-width="5"/>
<text x="1338" y="2099" font-size="25.2">Nat10-ZcKO</text>
<text font-size="25.2" text-anchor="middle" transform="translate(1288.6 2284.4) rotate(-90)">Nat10-unrelated</text>
<text font-size="25" text-anchor="middle" letter-spacing="1.5" transform="translate(1325.8 2286.1) rotate(-90)">log<tspan dy="4" font-size="19">2</tspan><tspan dy="-4" dx="-3">(TPM+1)</tspan></text>
</g>
</svg>
</body></html>
